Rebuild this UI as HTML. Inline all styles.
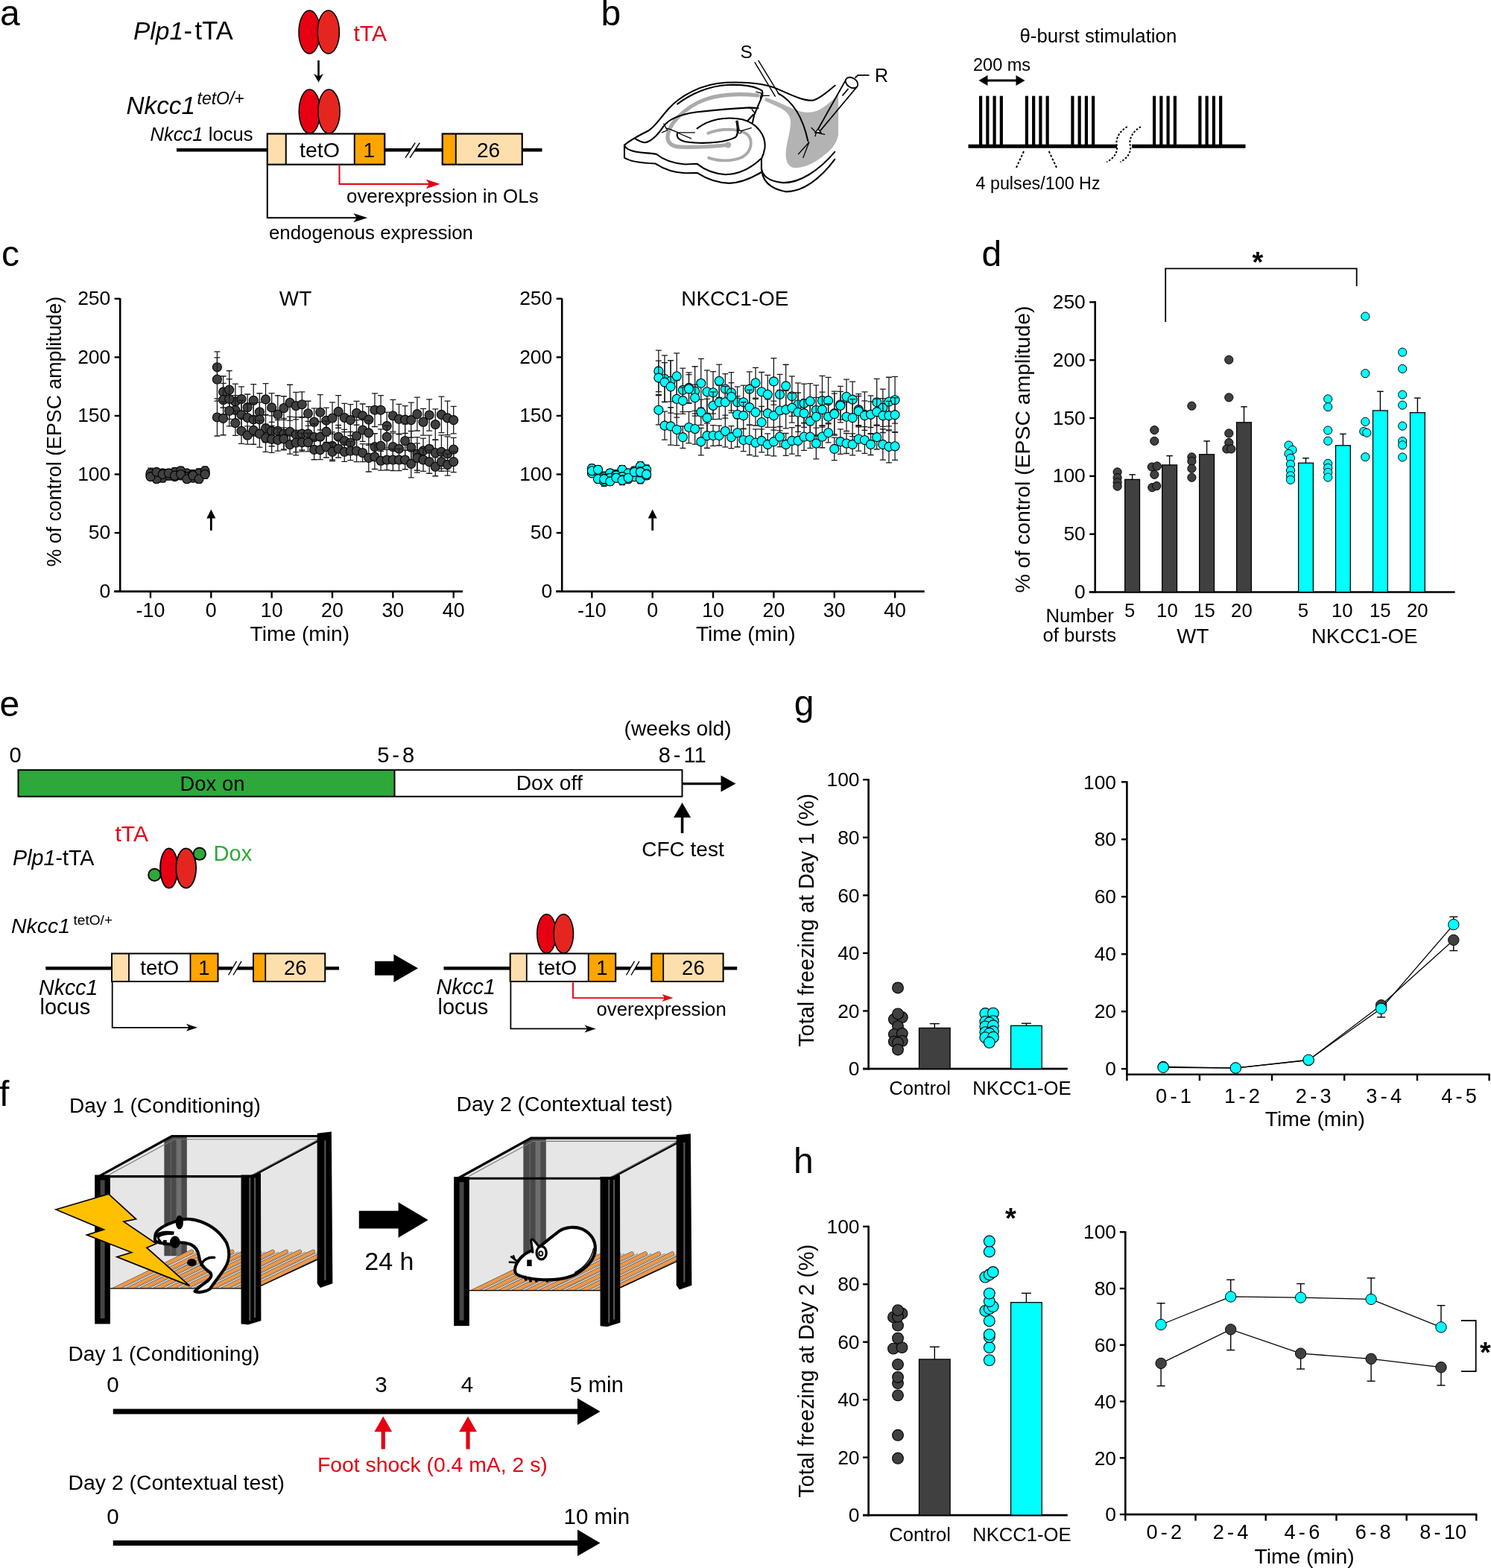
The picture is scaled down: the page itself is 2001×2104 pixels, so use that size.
<!DOCTYPE html>
<html><head><meta charset="utf-8"><title>Figure</title>
<style>
html,body{margin:0;padding:0;background:#fff;}
body{width:2001px;height:2104px;overflow:hidden;}
svg{display:block;}
text{font-family:"Liberation Sans",Arial,Helvetica,sans-serif;}
</style></head><body>
<svg width="2001" height="2104" viewBox="0 0 2001 2104">
<defs><clipPath id="floorclip"><polygon points="410,1025 1240,1025 1360,1012 1722,842 1722,775 890,775"/></clipPath></defs>
<rect width="2001" height="2104" fill="#fff"/>
<text x="0" y="34.2" font-size="48">a</text>
<text x="179" y="53.3" font-size="33.5"><tspan font-style="italic">Plp1</tspan><tspan dx="0.5" font-size="34.5">-</tspan><tspan dx="3.5" font-size="34.5">tTA</tspan></text>
<ellipse cx="415.25" cy="43" rx="14.2" ry="29" fill="#e60012" stroke="#000" stroke-width="1.6"/>
<ellipse cx="440.75" cy="43" rx="14.63" ry="29" fill="#e52620" stroke="#000" stroke-width="1.6"/>
<text x="474.5" y="55" font-size="30" fill="#e60012">tTA</text>
<line x1="427.5" y1="81" x2="427.5" y2="106" stroke="#000" stroke-width="2.6"/>
<polygon points="427.5,110.5 421,99 427.5,102.5 434,99" fill="#000" stroke="none" stroke-width="0"/>
<ellipse cx="415.5" cy="149.5" rx="14.2" ry="29.5" fill="#e60012" stroke="#000" stroke-width="1.6"/>
<ellipse cx="441.5" cy="149.5" rx="14.63" ry="29.5" fill="#e52620" stroke="#000" stroke-width="1.6"/>
<text x="169.5" y="152.5" font-size="33.3" font-style="italic">Nkcc1</text>
<text x="264.5" y="139.7" font-size="23" font-style="italic">tetO/+</text>
<text x="201.5" y="188.7" font-size="25.6"><tspan font-style="italic">Nkcc1</tspan> locus</text>
<line x1="237" y1="201.3" x2="727.5" y2="201.3" stroke="#000" stroke-width="4.6"/>
<rect x="358.75" y="179.5" width="25" height="41.25" fill="#fddfad" stroke="#000" stroke-width="0"/>
<rect x="383.75" y="179.5" width="92" height="41.25" fill="#fff" stroke="#000" stroke-width="0"/>
<rect x="475.75" y="179.5" width="40.5" height="41.25" fill="#ffa500" stroke="#000" stroke-width="0"/>
<rect x="358.75" y="179.5" width="157.5" height="41.25" fill="none" stroke="#000" stroke-width="2.2"/>
<line x1="383.75" y1="179.5" x2="383.75" y2="220.75" stroke="#000" stroke-width="2"/>
<line x1="475.75" y1="179.5" x2="475.75" y2="220.75" stroke="#000" stroke-width="2"/>
<text x="402" y="211" font-size="28.5">tetO</text>
<text x="487.5" y="211" font-size="28">1</text>
<polygon points="544.1,211.6 557.2,191.6 563.3,191.6 550.2,211.6" fill="#fff" stroke="none" stroke-width="0"/>
<line x1="544.1" y1="211.6" x2="557.2" y2="191.6" stroke="#000" stroke-width="1.5"/>
<line x1="550.2" y1="211.6" x2="563.3" y2="191.6" stroke="#000" stroke-width="1.5"/>
<rect x="593.75" y="179.5" width="18" height="41.25" fill="#ffa500" stroke="#000" stroke-width="0"/>
<rect x="611.75" y="179.5" width="89" height="41.25" fill="#fddfad" stroke="#000" stroke-width="0"/>
<rect x="593.75" y="179.5" width="107" height="41.25" fill="none" stroke="#000" stroke-width="2.2"/>
<line x1="611.75" y1="179.5" x2="611.75" y2="220.75" stroke="#000" stroke-width="2"/>
<text x="640" y="211" font-size="28">26</text>
<path d="M455.5 220.75 V247 H584" fill="none" stroke="#e60012" stroke-width="2"/>
<polygon points="590.7,247 571.9,253.2 575.9,247 571.9,240.8" fill="#e60012" stroke="none" stroke-width="0"/>
<text x="465" y="271.5" font-size="25.9">overexpression in OLs</text>
<path d="M358.75 220.75 V292.2 H486" fill="none" stroke="#000" stroke-width="2"/>
<polygon points="493.2,292.2 474.4,298.2 478.8,292.2 474.4,286.2" fill="#000" stroke="none" stroke-width="0"/>
<text x="361" y="320.5" font-size="25.8">endogenous expression</text>
<text x="806.6" y="34.2" font-size="48">b</text>
<g transform="translate(830,50) scale(0.15992)" fill="none" stroke="#000" stroke-width="13" stroke-linecap="round" stroke-linejoin="round">
<path d="M1235,505 C1320,530 1420,585 1520,620 C1590,640 1650,630 1700,600 C1760,560 1810,520 1845,480 L1845,820 C1830,900 1780,950 1700,1010 C1620,1070 1540,1100 1470,1095 C1420,1085 1400,1030 1405,960 C1412,880 1440,800 1445,720 C1448,650 1400,610 1330,580 C1290,562 1250,545 1225,530 Z" fill="#b3b3b3" stroke="none"/>
<path d="M1170,488 C1000,470 850,480 731,521 C640,552 560,610 500,670 C440,730 408,800 413,850 C423,905 470,918 520,920 C640,925 800,915 900,905" stroke="#aaaaaa" stroke-width="32"/>
<circle cx="920" cy="903" r="26" fill="#aaaaaa" stroke="none"/>
<path d="M752,805 C850,765 1000,760 1075,810 C1135,860 1120,960 1040,1005 C950,1045 840,1040 758,1012" stroke="#aaaaaa" stroke-width="24"/>
<path d="M50,905 C90,870 180,820 250,785 C310,750 340,690 420,600 C520,490 700,390 900,380 C1100,372 1260,395 1360,445 C1460,490 1560,535 1630,530 C1690,520 1760,450 1818,405"/>
<path d="M50,905 L50,1010"/>
<path d="M50,905 C60,945 120,962 220,970 C280,975 310,978 320,982 C380,1030 470,1060 560,1066 L660,1062 C720,1110 800,1145 900,1152 C1000,1150 1100,1110 1195,1020"/>
<path d="M50,1010 C90,1040 180,1055 310,1060 C380,1105 470,1135 560,1140 L660,1138 C740,1190 830,1222 930,1225 C1030,1222 1120,1180 1195,1135"/>
<path d="M1200,1020 L1200,1100 C1205,1160 1260,1210 1380,1220 C1520,1225 1680,1120 1815,962"/>
<path d="M1200,1100 C1205,1200 1270,1270 1400,1295 C1550,1300 1700,1180 1815,1025"/>
<path d="M660,765 C760,690 900,660 1040,690 C1170,725 1240,830 1228,930 C1220,980 1210,1000 1200,1020"/>
<path d="M495,560 C600,480 760,405 920,400 C1060,396 1150,410 1205,448 C1215,470 1205,500 1195,520"/>
<path d="M135,848 C170,870 200,885 225,883 C280,872 330,820 380,745 C420,690 500,650 650,628 C800,612 950,598 1100,590 L1170,595"/>
<path d="M495,800 C480,850 520,880 640,885 C760,892 900,880 980,840 C1005,820 1005,780 990,705"/>
<path d="M1195,520 L1140,650 L1125,715 M1130,650 L1085,700"/>
<path d="M1340,470 C1450,530 1545,660 1590,870"/>
<path d="M380,725 L410,780 L365,800 M395,760 L440,775 L500,800 L640,800 M505,805 L610,850" stroke-width="8"/>
<path d="M1000,700 L1015,790 L1115,760" stroke-width="8"/>
<circle cx="1018" cy="795" r="12" fill="#fff" stroke-width="7"/>
<path d="M1155,458 L1200,470 L1190,510 L1215,490 L1265,490" stroke-width="8"/>
<path d="M1095,595 L1175,595 M1120,605 L1140,630" stroke-width="9"/>
<path d="M1620,760 L1660,800 L1730,815 M1660,800 L1650,830" stroke-width="8"/>
<path d="M1510,980 L1600,880 L1550,1010" stroke-width="8"/>
<path d="M1145,212 L1315,495 M1175,196 L1350,482" stroke-width="9"/>
</g>
<path d="M1095.8,177 L1135.5,106.5 M1099.5,177 L1150.5,116" fill="none" stroke="#000" stroke-width="1.8"/>
<ellipse cx="1143" cy="111" rx="9" ry="6.3" transform="rotate(34 1143 111)" fill="#fff" stroke="#000" stroke-width="1.8"/>
<path d="M1130.5,128.5 L1138.5,119" fill="none" stroke="#000" stroke-width="1.8"/>
<path d="M1147.5,104.5 L1151.5,100.8 H1166.5" fill="none" stroke="#000" stroke-width="1.8"/>
<path d="M1094,178 L1098,173 L1102,178 Z" fill="#fff" stroke="#000" stroke-width="1.3"/>
<text x="1174" y="110" font-size="25">R</text>
<text x="993.5" y="77.5" font-size="24.5">S</text>
<text x="1368.5" y="57" font-size="25.8">θ-burst stimulation</text>
<text x="1306" y="94.5" font-size="23.5">200 ms</text>
<line x1="1320" y1="108" x2="1369" y2="108" stroke="#000" stroke-width="3"/>
<polygon points="1313.5,108 1325.5,101 1325.5,115" fill="#000" stroke="none" stroke-width="0"/>
<polygon points="1375.5,108 1363.5,115 1363.5,101" fill="#000" stroke="none" stroke-width="0"/>
<line x1="1299.5" y1="196.3" x2="1499" y2="196.3" stroke="#000" stroke-width="5"/>
<line x1="1519" y1="196.3" x2="1671.5" y2="196.3" stroke="#000" stroke-width="5"/>
<line x1="1316.1" y1="128.7" x2="1316.1" y2="196" stroke="#000" stroke-width="4.2"/>
<line x1="1325.35" y1="128.7" x2="1325.35" y2="196" stroke="#000" stroke-width="4.2"/>
<line x1="1334.6" y1="128.7" x2="1334.6" y2="196" stroke="#000" stroke-width="4.2"/>
<line x1="1343.85" y1="128.7" x2="1343.85" y2="196" stroke="#000" stroke-width="4.2"/>
<line x1="1377.9" y1="128.7" x2="1377.9" y2="196" stroke="#000" stroke-width="4.2"/>
<line x1="1387.15" y1="128.7" x2="1387.15" y2="196" stroke="#000" stroke-width="4.2"/>
<line x1="1396.4" y1="128.7" x2="1396.4" y2="196" stroke="#000" stroke-width="4.2"/>
<line x1="1405.65" y1="128.7" x2="1405.65" y2="196" stroke="#000" stroke-width="4.2"/>
<line x1="1439.4" y1="128.7" x2="1439.4" y2="196" stroke="#000" stroke-width="4.2"/>
<line x1="1448.65" y1="128.7" x2="1448.65" y2="196" stroke="#000" stroke-width="4.2"/>
<line x1="1457.9" y1="128.7" x2="1457.9" y2="196" stroke="#000" stroke-width="4.2"/>
<line x1="1467.15" y1="128.7" x2="1467.15" y2="196" stroke="#000" stroke-width="4.2"/>
<line x1="1549.1" y1="128.7" x2="1549.1" y2="196" stroke="#000" stroke-width="4.2"/>
<line x1="1558.35" y1="128.7" x2="1558.35" y2="196" stroke="#000" stroke-width="4.2"/>
<line x1="1567.6" y1="128.7" x2="1567.6" y2="196" stroke="#000" stroke-width="4.2"/>
<line x1="1576.85" y1="128.7" x2="1576.85" y2="196" stroke="#000" stroke-width="4.2"/>
<line x1="1610.4" y1="128.7" x2="1610.4" y2="196" stroke="#000" stroke-width="4.2"/>
<line x1="1619.65" y1="128.7" x2="1619.65" y2="196" stroke="#000" stroke-width="4.2"/>
<line x1="1628.9" y1="128.7" x2="1628.9" y2="196" stroke="#000" stroke-width="4.2"/>
<line x1="1638.15" y1="128.7" x2="1638.15" y2="196" stroke="#000" stroke-width="4.2"/>
<line x1="1374" y1="203" x2="1363.5" y2="226" stroke="#000" stroke-width="2" stroke-dasharray="3,2.3"/>
<line x1="1407.75" y1="203" x2="1418.5" y2="226" stroke="#000" stroke-width="2" stroke-dasharray="3,2.3"/>
<path d="M1512.8,170 C1500,178 1497,188 1499,196 C1500,205 1495,212 1485.3,217.5" fill="none" stroke="#000" stroke-width="2" stroke-dasharray="2.6,2.2"/>
<path d="M1531,170 C1518,178 1515,188 1517,196 C1518,205 1513,212 1503.5,217.5" fill="none" stroke="#000" stroke-width="2" stroke-dasharray="2.6,2.2"/>
<text x="1309.5" y="253.8" font-size="23.3">4 pulses/100 Hz</text>
<text x="2" y="357" font-size="48">c</text>
<text transform="translate(82.4,579.1) rotate(-90)" font-size="26.75" text-anchor="middle">% of control (EPSC amplitude)</text>
<line x1="161.2" y1="400.2" x2="161.2" y2="795" stroke="#000" stroke-width="2.6"/>
<line x1="153.2" y1="793.6" x2="621" y2="793.6" stroke="#000" stroke-width="2.6"/>
<line x1="153.7" y1="793.6" x2="161.2" y2="793.6" stroke="#000" stroke-width="2.4"/>
<text x="148.35" y="801.9" font-size="26.5" text-anchor="end">0</text>
<line x1="153.7" y1="715.04" x2="161.2" y2="715.04" stroke="#000" stroke-width="2.4"/>
<text x="148.35" y="723.34" font-size="26.5" text-anchor="end">50</text>
<line x1="153.7" y1="636.48" x2="161.2" y2="636.48" stroke="#000" stroke-width="2.4"/>
<text x="148.35" y="644.78" font-size="26.5" text-anchor="end">100</text>
<line x1="153.7" y1="557.92" x2="161.2" y2="557.92" stroke="#000" stroke-width="2.4"/>
<text x="148.35" y="566.22" font-size="26.5" text-anchor="end">150</text>
<line x1="153.7" y1="479.36" x2="161.2" y2="479.36" stroke="#000" stroke-width="2.4"/>
<text x="148.35" y="487.66" font-size="26.5" text-anchor="end">200</text>
<line x1="153.7" y1="400.8" x2="161.2" y2="400.8" stroke="#000" stroke-width="2.4"/>
<text x="148.35" y="409.1" font-size="26.5" text-anchor="end">250</text>
<line x1="201.95" y1="793.6" x2="201.95" y2="802.5" stroke="#000" stroke-width="2.4"/>
<text x="201.95" y="827.5" font-size="26.8" text-anchor="middle">-10</text>
<line x1="283.3" y1="793.6" x2="283.3" y2="802.5" stroke="#000" stroke-width="2.4"/>
<text x="283.3" y="827.5" font-size="26.8" text-anchor="middle">0</text>
<line x1="364.65" y1="793.6" x2="364.65" y2="802.5" stroke="#000" stroke-width="2.4"/>
<text x="364.65" y="827.5" font-size="26.8" text-anchor="middle">10</text>
<line x1="446" y1="793.6" x2="446" y2="802.5" stroke="#000" stroke-width="2.4"/>
<text x="446" y="827.5" font-size="26.8" text-anchor="middle">20</text>
<line x1="527.35" y1="793.6" x2="527.35" y2="802.5" stroke="#000" stroke-width="2.4"/>
<text x="527.35" y="827.5" font-size="26.8" text-anchor="middle">30</text>
<line x1="608.7" y1="793.6" x2="608.7" y2="802.5" stroke="#000" stroke-width="2.4"/>
<text x="608.7" y="827.5" font-size="26.8" text-anchor="middle">40</text>
<text x="402.33" y="860" font-size="28.2" text-anchor="middle">Time (min)</text>
<text x="396.5" y="410.3" font-size="27.9" text-anchor="middle">WT</text>
<line x1="283.3" y1="690" x2="283.3" y2="711.8" stroke="#000" stroke-width="2.8"/>
<polygon points="283.3,683.5 289.3,695.5 277.3,695.5" fill="#000" stroke="none" stroke-width="0"/>
<path d="M201.95 633.21V642.9M197.95 633.21H205.95M197.95 642.9H205.95" stroke="#1a1a1a" stroke-width="1.3" fill="none"/>
<path d="M210.09 630.55V639.26M206.09 630.55H214.09M206.09 639.26H214.09" stroke="#1a1a1a" stroke-width="1.3" fill="none"/>
<path d="M218.22 635.42V646.96M214.22 635.42H222.22M214.22 646.96H222.22" stroke="#1a1a1a" stroke-width="1.3" fill="none"/>
<path d="M226.36 632.35V640.61M222.36 632.35H230.36M222.36 640.61H230.36" stroke="#1a1a1a" stroke-width="1.3" fill="none"/>
<path d="M234.49 627.89V638.78M230.49 627.89H238.49M230.49 638.78H238.49" stroke="#1a1a1a" stroke-width="1.3" fill="none"/>
<path d="M242.62 633.09V643.01M238.62 633.09H246.62M238.62 643.01H246.62" stroke="#1a1a1a" stroke-width="1.3" fill="none"/>
<path d="M250.76 630.82V639M246.76 630.82H254.76M246.76 639H254.76" stroke="#1a1a1a" stroke-width="1.3" fill="none"/>
<path d="M258.89 635.83V646.56M254.89 635.83H262.89M254.89 646.56H262.89" stroke="#1a1a1a" stroke-width="1.3" fill="none"/>
<path d="M267.03 635.59V643.66M263.03 635.59H271.03M263.03 643.66H271.03" stroke="#1a1a1a" stroke-width="1.3" fill="none"/>
<path d="M275.17 629.75V640.06M271.17 629.75H279.17M271.17 640.06H279.17" stroke="#1a1a1a" stroke-width="1.3" fill="none"/>
<path d="M291.44 471.87V513.56M287.44 471.87H295.44M287.44 513.56H295.44" stroke="#1a1a1a" stroke-width="1.3" fill="none"/>
<path d="M299.57 504.75V546.99M295.57 504.75H303.57M295.57 546.99H303.57" stroke="#1a1a1a" stroke-width="1.3" fill="none"/>
<path d="M307.71 497.49V548.59M303.71 497.49H311.71M303.71 548.59H311.71" stroke="#1a1a1a" stroke-width="1.3" fill="none"/>
<path d="M315.84 515.14V562.67M311.84 515.14H319.84M311.84 562.67H319.84" stroke="#1a1a1a" stroke-width="1.3" fill="none"/>
<path d="M323.98 518.87V552.04M319.98 518.87H327.98M319.98 552.04H327.98" stroke="#1a1a1a" stroke-width="1.3" fill="none"/>
<path d="M332.11 529.01V564.21M328.11 529.01H336.11M328.11 564.21H336.11" stroke="#1a1a1a" stroke-width="1.3" fill="none"/>
<path d="M340.25 515.61V559.06M336.25 515.61H344.25M336.25 559.06H344.25" stroke="#1a1a1a" stroke-width="1.3" fill="none"/>
<path d="M348.38 527.74V577.73M344.38 527.74H352.38M344.38 577.73H352.38" stroke="#1a1a1a" stroke-width="1.3" fill="none"/>
<path d="M356.51 514.71V557.14M352.51 514.71H360.51M352.51 557.14H360.51" stroke="#1a1a1a" stroke-width="1.3" fill="none"/>
<path d="M364.65 527.55V566.29M360.65 527.55H368.65M360.65 566.29H368.65" stroke="#1a1a1a" stroke-width="1.3" fill="none"/>
<path d="M372.79 530.75V581.32M368.79 530.75H376.79M368.79 581.32H376.79" stroke="#1a1a1a" stroke-width="1.3" fill="none"/>
<path d="M380.92 531.76V563.35M376.92 531.76H384.92M376.92 563.35H384.92" stroke="#1a1a1a" stroke-width="1.3" fill="none"/>
<path d="M389.06 516.24V564.41M385.06 516.24H393.06M385.06 564.41H393.06" stroke="#1a1a1a" stroke-width="1.3" fill="none"/>
<path d="M397.19 526.29V562.84M393.19 526.29H401.19M393.19 562.84H401.19" stroke="#1a1a1a" stroke-width="1.3" fill="none"/>
<path d="M405.32 525.89V559.47M401.32 525.89H409.32M401.32 559.47H409.32" stroke="#1a1a1a" stroke-width="1.3" fill="none"/>
<path d="M413.46 538.26V571.3M409.46 538.26H417.46M409.46 571.3H417.46" stroke="#1a1a1a" stroke-width="1.3" fill="none"/>
<path d="M421.6 547.78V584.72M417.6 547.78H425.6M417.6 584.72H425.6" stroke="#1a1a1a" stroke-width="1.3" fill="none"/>
<path d="M429.73 529.55V576.86M425.73 529.55H433.73M425.73 576.86H433.73" stroke="#1a1a1a" stroke-width="1.3" fill="none"/>
<path d="M437.87 547.04V581.37M433.87 547.04H441.87M433.87 581.37H441.87" stroke="#1a1a1a" stroke-width="1.3" fill="none"/>
<path d="M446 539.8V582.32M442 539.8H450M442 582.32H450" stroke="#1a1a1a" stroke-width="1.3" fill="none"/>
<path d="M454.13 530.58V574.27M450.13 530.58H458.13M450.13 574.27H458.13" stroke="#1a1a1a" stroke-width="1.3" fill="none"/>
<path d="M462.27 541.31V579.56M458.27 541.31H466.27M458.27 579.56H466.27" stroke="#1a1a1a" stroke-width="1.3" fill="none"/>
<path d="M470.4 542.66V584.49M466.4 542.66H474.4M466.4 584.49H474.4" stroke="#1a1a1a" stroke-width="1.3" fill="none"/>
<path d="M478.54 538.35V570.27M474.54 538.35H482.54M474.54 570.27H482.54" stroke="#1a1a1a" stroke-width="1.3" fill="none"/>
<path d="M486.68 541.99V573.85M482.68 541.99H490.68M482.68 573.85H490.68" stroke="#1a1a1a" stroke-width="1.3" fill="none"/>
<path d="M494.81 545.68V580.53M490.81 545.68H498.81M490.81 580.53H498.81" stroke="#1a1a1a" stroke-width="1.3" fill="none"/>
<path d="M502.94 527.95V572.49M498.94 527.95H506.94M498.94 572.49H506.94" stroke="#1a1a1a" stroke-width="1.3" fill="none"/>
<path d="M511.08 530.54V569.91M507.08 530.54H515.08M507.08 569.91H515.08" stroke="#1a1a1a" stroke-width="1.3" fill="none"/>
<path d="M519.22 553.06V590.12M515.22 553.06H523.22M515.22 590.12H523.22" stroke="#1a1a1a" stroke-width="1.3" fill="none"/>
<path d="M527.35 536.46V579.06M523.35 536.46H531.35M523.35 579.06H531.35" stroke="#1a1a1a" stroke-width="1.3" fill="none"/>
<path d="M535.49 542.37V582.27M531.49 542.37H539.49M531.49 582.27H539.49" stroke="#1a1a1a" stroke-width="1.3" fill="none"/>
<path d="M543.62 544.72V581.49M539.62 544.72H547.62M539.62 581.49H547.62" stroke="#1a1a1a" stroke-width="1.3" fill="none"/>
<path d="M551.75 540.14V587.01M547.75 540.14H555.75M547.75 587.01H555.75" stroke="#1a1a1a" stroke-width="1.3" fill="none"/>
<path d="M559.89 533.11V578.02M555.89 533.11H563.89M555.89 578.02H563.89" stroke="#1a1a1a" stroke-width="1.3" fill="none"/>
<path d="M568.02 548.44V584.06M564.02 548.44H572.02M564.02 584.06H572.02" stroke="#1a1a1a" stroke-width="1.3" fill="none"/>
<path d="M576.16 535.79V578.16M572.16 535.79H580.16M572.16 578.16H580.16" stroke="#1a1a1a" stroke-width="1.3" fill="none"/>
<path d="M584.3 548.86V590.23M580.3 548.86H588.3M580.3 590.23H588.3" stroke="#1a1a1a" stroke-width="1.3" fill="none"/>
<path d="M592.43 532.09V580.61M588.43 532.09H596.43M588.43 580.61H596.43" stroke="#1a1a1a" stroke-width="1.3" fill="none"/>
<path d="M600.57 538.14V583.67M596.57 538.14H604.57M596.57 583.67H604.57" stroke="#1a1a1a" stroke-width="1.3" fill="none"/>
<path d="M608.7 545.32V581.84M604.7 545.32H612.7M604.7 581.84H612.7" stroke="#1a1a1a" stroke-width="1.3" fill="none"/>
<circle cx="201.95" cy="638.05" r="6" fill="#404040" stroke="#000" stroke-width="1.1"/>
<circle cx="210.09" cy="634.91" r="6" fill="#404040" stroke="#000" stroke-width="1.1"/>
<circle cx="218.22" cy="641.19" r="6" fill="#404040" stroke="#000" stroke-width="1.1"/>
<circle cx="226.36" cy="636.48" r="6" fill="#404040" stroke="#000" stroke-width="1.1"/>
<circle cx="234.49" cy="633.34" r="6" fill="#404040" stroke="#000" stroke-width="1.1"/>
<circle cx="242.62" cy="638.05" r="6" fill="#404040" stroke="#000" stroke-width="1.1"/>
<circle cx="250.76" cy="634.91" r="6" fill="#404040" stroke="#000" stroke-width="1.1"/>
<circle cx="258.89" cy="641.19" r="6" fill="#404040" stroke="#000" stroke-width="1.1"/>
<circle cx="267.03" cy="639.62" r="6" fill="#404040" stroke="#000" stroke-width="1.1"/>
<circle cx="275.17" cy="634.91" r="6" fill="#404040" stroke="#000" stroke-width="1.1"/>
<circle cx="291.44" cy="492.72" r="6" fill="#404040" stroke="#000" stroke-width="1.1"/>
<circle cx="299.57" cy="525.87" r="6" fill="#404040" stroke="#000" stroke-width="1.1"/>
<circle cx="307.71" cy="523.04" r="6" fill="#404040" stroke="#000" stroke-width="1.1"/>
<circle cx="315.84" cy="538.91" r="6" fill="#404040" stroke="#000" stroke-width="1.1"/>
<circle cx="323.98" cy="535.45" r="6" fill="#404040" stroke="#000" stroke-width="1.1"/>
<circle cx="332.11" cy="546.61" r="6" fill="#404040" stroke="#000" stroke-width="1.1"/>
<circle cx="340.25" cy="537.34" r="6" fill="#404040" stroke="#000" stroke-width="1.1"/>
<circle cx="348.38" cy="552.74" r="6" fill="#404040" stroke="#000" stroke-width="1.1"/>
<circle cx="356.51" cy="535.92" r="6" fill="#404040" stroke="#000" stroke-width="1.1"/>
<circle cx="364.65" cy="546.92" r="6" fill="#404040" stroke="#000" stroke-width="1.1"/>
<circle cx="372.79" cy="556.03" r="6" fill="#404040" stroke="#000" stroke-width="1.1"/>
<circle cx="380.92" cy="547.55" r="6" fill="#404040" stroke="#000" stroke-width="1.1"/>
<circle cx="389.06" cy="540.32" r="6" fill="#404040" stroke="#000" stroke-width="1.1"/>
<circle cx="397.19" cy="544.56" r="6" fill="#404040" stroke="#000" stroke-width="1.1"/>
<circle cx="405.32" cy="542.68" r="6" fill="#404040" stroke="#000" stroke-width="1.1"/>
<circle cx="413.46" cy="554.78" r="6" fill="#404040" stroke="#000" stroke-width="1.1"/>
<circle cx="421.6" cy="566.25" r="6" fill="#404040" stroke="#000" stroke-width="1.1"/>
<circle cx="429.73" cy="553.21" r="6" fill="#404040" stroke="#000" stroke-width="1.1"/>
<circle cx="437.87" cy="564.2" r="6" fill="#404040" stroke="#000" stroke-width="1.1"/>
<circle cx="446" cy="561.06" r="6" fill="#404040" stroke="#000" stroke-width="1.1"/>
<circle cx="454.13" cy="552.42" r="6" fill="#404040" stroke="#000" stroke-width="1.1"/>
<circle cx="462.27" cy="560.43" r="6" fill="#404040" stroke="#000" stroke-width="1.1"/>
<circle cx="470.4" cy="563.58" r="6" fill="#404040" stroke="#000" stroke-width="1.1"/>
<circle cx="478.54" cy="554.31" r="6" fill="#404040" stroke="#000" stroke-width="1.1"/>
<circle cx="486.68" cy="557.92" r="6" fill="#404040" stroke="#000" stroke-width="1.1"/>
<circle cx="494.81" cy="563.1" r="6" fill="#404040" stroke="#000" stroke-width="1.1"/>
<circle cx="502.94" cy="550.22" r="6" fill="#404040" stroke="#000" stroke-width="1.1"/>
<circle cx="511.08" cy="550.22" r="6" fill="#404040" stroke="#000" stroke-width="1.1"/>
<circle cx="519.22" cy="571.59" r="6" fill="#404040" stroke="#000" stroke-width="1.1"/>
<circle cx="527.35" cy="557.76" r="6" fill="#404040" stroke="#000" stroke-width="1.1"/>
<circle cx="535.49" cy="562.32" r="6" fill="#404040" stroke="#000" stroke-width="1.1"/>
<circle cx="543.62" cy="563.1" r="6" fill="#404040" stroke="#000" stroke-width="1.1"/>
<circle cx="551.75" cy="563.58" r="6" fill="#404040" stroke="#000" stroke-width="1.1"/>
<circle cx="559.89" cy="555.56" r="6" fill="#404040" stroke="#000" stroke-width="1.1"/>
<circle cx="568.02" cy="566.25" r="6" fill="#404040" stroke="#000" stroke-width="1.1"/>
<circle cx="576.16" cy="556.98" r="6" fill="#404040" stroke="#000" stroke-width="1.1"/>
<circle cx="584.3" cy="569.55" r="6" fill="#404040" stroke="#000" stroke-width="1.1"/>
<circle cx="592.43" cy="556.35" r="6" fill="#404040" stroke="#000" stroke-width="1.1"/>
<circle cx="600.57" cy="560.91" r="6" fill="#404040" stroke="#000" stroke-width="1.1"/>
<circle cx="608.7" cy="563.58" r="6" fill="#404040" stroke="#000" stroke-width="1.1"/>
<path d="M201.95 628.21V641.61M197.95 628.21H205.95M197.95 641.61H205.95" stroke="#1a1a1a" stroke-width="1.3" fill="none"/>
<path d="M210.09 638.5V647.03M206.09 638.5H214.09M206.09 647.03H214.09" stroke="#1a1a1a" stroke-width="1.3" fill="none"/>
<path d="M218.22 629.8V640.02M214.22 629.8H222.22M214.22 640.02H222.22" stroke="#1a1a1a" stroke-width="1.3" fill="none"/>
<path d="M226.36 631.98V644.12M222.36 631.98H230.36M222.36 644.12H230.36" stroke="#1a1a1a" stroke-width="1.3" fill="none"/>
<path d="M234.49 635.26V643.98M230.49 635.26H238.49M230.49 643.98H238.49" stroke="#1a1a1a" stroke-width="1.3" fill="none"/>
<path d="M242.62 626.46V637.08M238.62 626.46H246.62M238.62 637.08H246.62" stroke="#1a1a1a" stroke-width="1.3" fill="none"/>
<path d="M250.76 635.58V643.66M246.76 635.58H254.76M246.76 643.66H254.76" stroke="#1a1a1a" stroke-width="1.3" fill="none"/>
<path d="M258.89 630.66V642.3M254.89 630.66H262.89M254.89 642.3H262.89" stroke="#1a1a1a" stroke-width="1.3" fill="none"/>
<path d="M267.03 628.82V641M263.03 628.82H271.03M263.03 641H271.03" stroke="#1a1a1a" stroke-width="1.3" fill="none"/>
<path d="M275.17 626.22V637.32M271.17 626.22H279.17M271.17 637.32H279.17" stroke="#1a1a1a" stroke-width="1.3" fill="none"/>
<path d="M291.44 479.94V538.17M287.44 479.94H295.44M287.44 538.17H295.44" stroke="#1a1a1a" stroke-width="1.3" fill="none"/>
<path d="M299.57 514.32V558.78M295.57 514.32H303.57M295.57 558.78H303.57" stroke="#1a1a1a" stroke-width="1.3" fill="none"/>
<path d="M307.71 508.55V562.36M303.71 508.55H311.71M303.71 562.36H311.71" stroke="#1a1a1a" stroke-width="1.3" fill="none"/>
<path d="M315.84 530.63V570.12M311.84 530.63H319.84M311.84 570.12H319.84" stroke="#1a1a1a" stroke-width="1.3" fill="none"/>
<path d="M323.98 537.06V576.27M319.98 537.06H327.98M319.98 576.27H327.98" stroke="#1a1a1a" stroke-width="1.3" fill="none"/>
<path d="M332.11 541.99V578.88M328.11 541.99H336.11M328.11 578.88H336.11" stroke="#1a1a1a" stroke-width="1.3" fill="none"/>
<path d="M340.25 540.89V585.01M336.25 540.89H344.25M336.25 585.01H344.25" stroke="#1a1a1a" stroke-width="1.3" fill="none"/>
<path d="M348.38 539.9V585.99M344.38 539.9H352.38M344.38 585.99H352.38" stroke="#1a1a1a" stroke-width="1.3" fill="none"/>
<path d="M356.51 556.28V593.5M352.51 556.28H360.51M352.51 593.5H360.51" stroke="#1a1a1a" stroke-width="1.3" fill="none"/>
<path d="M364.65 557.94V598.75M360.65 557.94H368.65M360.65 598.75H368.65" stroke="#1a1a1a" stroke-width="1.3" fill="none"/>
<path d="M372.79 563.48V592.9M368.79 563.48H376.79M368.79 592.9H376.79" stroke="#1a1a1a" stroke-width="1.3" fill="none"/>
<path d="M380.92 561.36V602.87M376.92 561.36H384.92M376.92 602.87H384.92" stroke="#1a1a1a" stroke-width="1.3" fill="none"/>
<path d="M389.06 559.05V599.53M385.06 559.05H393.06M385.06 599.53H393.06" stroke="#1a1a1a" stroke-width="1.3" fill="none"/>
<path d="M397.19 559.56V606.56M393.19 559.56H401.19M393.19 606.56H401.19" stroke="#1a1a1a" stroke-width="1.3" fill="none"/>
<path d="M405.32 560.23V604.01M401.32 560.23H409.32M401.32 604.01H409.32" stroke="#1a1a1a" stroke-width="1.3" fill="none"/>
<path d="M413.46 565.29V598.94M409.46 565.29H417.46M409.46 598.94H417.46" stroke="#1a1a1a" stroke-width="1.3" fill="none"/>
<path d="M421.6 568.74V604.29M417.6 568.74H425.6M417.6 604.29H425.6" stroke="#1a1a1a" stroke-width="1.3" fill="none"/>
<path d="M429.73 565.76V606.65M425.73 565.76H433.73M425.73 606.65H433.73" stroke="#1a1a1a" stroke-width="1.3" fill="none"/>
<path d="M437.87 564.78V593.48M433.87 564.78H441.87M433.87 593.48H441.87" stroke="#1a1a1a" stroke-width="1.3" fill="none"/>
<path d="M446 579.81V616.79M442 579.81H450M442 616.79H450" stroke="#1a1a1a" stroke-width="1.3" fill="none"/>
<path d="M454.13 570.48V601.93M450.13 570.48H458.13M450.13 601.93H458.13" stroke="#1a1a1a" stroke-width="1.3" fill="none"/>
<path d="M462.27 576.3V606.79M458.27 576.3H466.27M458.27 606.79H466.27" stroke="#1a1a1a" stroke-width="1.3" fill="none"/>
<path d="M470.4 579.52V608.91M466.4 579.52H474.4M466.4 608.91H474.4" stroke="#1a1a1a" stroke-width="1.3" fill="none"/>
<path d="M478.54 563.56V606.33M474.54 563.56H482.54M474.54 606.33H482.54" stroke="#1a1a1a" stroke-width="1.3" fill="none"/>
<path d="M486.68 561.57V592.29M482.68 561.57H490.68M482.68 592.29H490.68" stroke="#1a1a1a" stroke-width="1.3" fill="none"/>
<path d="M494.81 564.38V597.33M490.81 564.38H498.81M490.81 597.33H498.81" stroke="#1a1a1a" stroke-width="1.3" fill="none"/>
<path d="M502.94 581.73V617.38M498.94 581.73H506.94M498.94 617.38H506.94" stroke="#1a1a1a" stroke-width="1.3" fill="none"/>
<path d="M511.08 575.94V620.66M507.08 575.94H515.08M507.08 620.66H515.08" stroke="#1a1a1a" stroke-width="1.3" fill="none"/>
<path d="M519.22 571.3V601.1M515.22 571.3H523.22M515.22 601.1H523.22" stroke="#1a1a1a" stroke-width="1.3" fill="none"/>
<path d="M527.35 581.18V617.93M523.35 581.18H531.35M523.35 617.93H531.35" stroke="#1a1a1a" stroke-width="1.3" fill="none"/>
<path d="M535.49 582.91V621.55M531.49 582.91H539.49M531.49 621.55H539.49" stroke="#1a1a1a" stroke-width="1.3" fill="none"/>
<path d="M543.62 569.08V614.01M539.62 569.08H547.62M539.62 614.01H547.62" stroke="#1a1a1a" stroke-width="1.3" fill="none"/>
<path d="M551.75 578.48V622.21M547.75 578.48H555.75M547.75 622.21H555.75" stroke="#1a1a1a" stroke-width="1.3" fill="none"/>
<path d="M559.89 586.7V631.27M555.89 586.7H563.89M555.89 631.27H563.89" stroke="#1a1a1a" stroke-width="1.3" fill="none"/>
<path d="M568.02 588.13V621.66M564.02 588.13H572.02M564.02 621.66H572.02" stroke="#1a1a1a" stroke-width="1.3" fill="none"/>
<path d="M576.16 584.17V620.28M572.16 584.17H580.16M572.16 620.28H580.16" stroke="#1a1a1a" stroke-width="1.3" fill="none"/>
<path d="M584.3 590.05V625.09M580.3 590.05H588.3M580.3 625.09H588.3" stroke="#1a1a1a" stroke-width="1.3" fill="none"/>
<path d="M592.43 583.84V628.79M588.43 583.84H596.43M588.43 628.79H596.43" stroke="#1a1a1a" stroke-width="1.3" fill="none"/>
<path d="M600.57 585.81V632.15M596.57 585.81H604.57M596.57 632.15H604.57" stroke="#1a1a1a" stroke-width="1.3" fill="none"/>
<path d="M608.7 587.45V618.58M604.7 587.45H612.7M604.7 618.58H612.7" stroke="#1a1a1a" stroke-width="1.3" fill="none"/>
<circle cx="201.95" cy="634.91" r="6" fill="#404040" stroke="#000" stroke-width="1.1"/>
<circle cx="210.09" cy="642.76" r="6" fill="#404040" stroke="#000" stroke-width="1.1"/>
<circle cx="218.22" cy="634.91" r="6" fill="#404040" stroke="#000" stroke-width="1.1"/>
<circle cx="226.36" cy="638.05" r="6" fill="#404040" stroke="#000" stroke-width="1.1"/>
<circle cx="234.49" cy="639.62" r="6" fill="#404040" stroke="#000" stroke-width="1.1"/>
<circle cx="242.62" cy="631.77" r="6" fill="#404040" stroke="#000" stroke-width="1.1"/>
<circle cx="250.76" cy="639.62" r="6" fill="#404040" stroke="#000" stroke-width="1.1"/>
<circle cx="258.89" cy="636.48" r="6" fill="#404040" stroke="#000" stroke-width="1.1"/>
<circle cx="267.03" cy="634.91" r="6" fill="#404040" stroke="#000" stroke-width="1.1"/>
<circle cx="275.17" cy="631.77" r="6" fill="#404040" stroke="#000" stroke-width="1.1"/>
<circle cx="291.44" cy="509.06" r="6" fill="#404040" stroke="#000" stroke-width="1.1"/>
<circle cx="299.57" cy="536.55" r="6" fill="#404040" stroke="#000" stroke-width="1.1"/>
<circle cx="307.71" cy="535.45" r="6" fill="#404040" stroke="#000" stroke-width="1.1"/>
<circle cx="315.84" cy="550.38" r="6" fill="#404040" stroke="#000" stroke-width="1.1"/>
<circle cx="323.98" cy="556.66" r="6" fill="#404040" stroke="#000" stroke-width="1.1"/>
<circle cx="332.11" cy="560.43" r="6" fill="#404040" stroke="#000" stroke-width="1.1"/>
<circle cx="340.25" cy="562.95" r="6" fill="#404040" stroke="#000" stroke-width="1.1"/>
<circle cx="348.38" cy="562.95" r="6" fill="#404040" stroke="#000" stroke-width="1.1"/>
<circle cx="356.51" cy="574.89" r="6" fill="#404040" stroke="#000" stroke-width="1.1"/>
<circle cx="364.65" cy="578.35" r="6" fill="#404040" stroke="#000" stroke-width="1.1"/>
<circle cx="372.79" cy="578.19" r="6" fill="#404040" stroke="#000" stroke-width="1.1"/>
<circle cx="380.92" cy="582.12" r="6" fill="#404040" stroke="#000" stroke-width="1.1"/>
<circle cx="389.06" cy="579.29" r="6" fill="#404040" stroke="#000" stroke-width="1.1"/>
<circle cx="397.19" cy="583.06" r="6" fill="#404040" stroke="#000" stroke-width="1.1"/>
<circle cx="405.32" cy="582.12" r="6" fill="#404040" stroke="#000" stroke-width="1.1"/>
<circle cx="413.46" cy="582.12" r="6" fill="#404040" stroke="#000" stroke-width="1.1"/>
<circle cx="421.6" cy="586.52" r="6" fill="#404040" stroke="#000" stroke-width="1.1"/>
<circle cx="429.73" cy="586.2" r="6" fill="#404040" stroke="#000" stroke-width="1.1"/>
<circle cx="437.87" cy="579.13" r="6" fill="#404040" stroke="#000" stroke-width="1.1"/>
<circle cx="446" cy="598.3" r="6" fill="#404040" stroke="#000" stroke-width="1.1"/>
<circle cx="454.13" cy="586.2" r="6" fill="#404040" stroke="#000" stroke-width="1.1"/>
<circle cx="462.27" cy="591.54" r="6" fill="#404040" stroke="#000" stroke-width="1.1"/>
<circle cx="470.4" cy="594.21" r="6" fill="#404040" stroke="#000" stroke-width="1.1"/>
<circle cx="478.54" cy="584.94" r="6" fill="#404040" stroke="#000" stroke-width="1.1"/>
<circle cx="486.68" cy="576.93" r="6" fill="#404040" stroke="#000" stroke-width="1.1"/>
<circle cx="494.81" cy="580.86" r="6" fill="#404040" stroke="#000" stroke-width="1.1"/>
<circle cx="502.94" cy="599.56" r="6" fill="#404040" stroke="#000" stroke-width="1.1"/>
<circle cx="511.08" cy="598.3" r="6" fill="#404040" stroke="#000" stroke-width="1.1"/>
<circle cx="519.22" cy="586.2" r="6" fill="#404040" stroke="#000" stroke-width="1.1"/>
<circle cx="527.35" cy="599.56" r="6" fill="#404040" stroke="#000" stroke-width="1.1"/>
<circle cx="535.49" cy="602.23" r="6" fill="#404040" stroke="#000" stroke-width="1.1"/>
<circle cx="543.62" cy="591.54" r="6" fill="#404040" stroke="#000" stroke-width="1.1"/>
<circle cx="551.75" cy="600.34" r="6" fill="#404040" stroke="#000" stroke-width="1.1"/>
<circle cx="559.89" cy="608.98" r="6" fill="#404040" stroke="#000" stroke-width="1.1"/>
<circle cx="568.02" cy="604.9" r="6" fill="#404040" stroke="#000" stroke-width="1.1"/>
<circle cx="576.16" cy="602.23" r="6" fill="#404040" stroke="#000" stroke-width="1.1"/>
<circle cx="584.3" cy="607.57" r="6" fill="#404040" stroke="#000" stroke-width="1.1"/>
<circle cx="592.43" cy="606.31" r="6" fill="#404040" stroke="#000" stroke-width="1.1"/>
<circle cx="600.57" cy="608.98" r="6" fill="#404040" stroke="#000" stroke-width="1.1"/>
<circle cx="608.7" cy="603.01" r="6" fill="#404040" stroke="#000" stroke-width="1.1"/>
<path d="M201.95 635.2V644.05M197.95 635.2H205.95M197.95 644.05H205.95" stroke="#1a1a1a" stroke-width="1.3" fill="none"/>
<path d="M210.09 628.75V637.92M206.09 628.75H214.09M206.09 637.92H214.09" stroke="#1a1a1a" stroke-width="1.3" fill="none"/>
<path d="M218.22 631.89V641.07M214.22 631.89H222.22M214.22 641.07H222.22" stroke="#1a1a1a" stroke-width="1.3" fill="none"/>
<path d="M226.36 629.61V640.21M222.36 629.61H230.36M222.36 640.21H230.36" stroke="#1a1a1a" stroke-width="1.3" fill="none"/>
<path d="M234.49 632.46V643.65M230.49 632.46H238.49M230.49 643.65H238.49" stroke="#1a1a1a" stroke-width="1.3" fill="none"/>
<path d="M242.62 631.81V641.15M238.62 631.81H246.62M238.62 641.15H246.62" stroke="#1a1a1a" stroke-width="1.3" fill="none"/>
<path d="M250.76 638.83V646.7M246.76 638.83H254.76M246.76 646.7H254.76" stroke="#1a1a1a" stroke-width="1.3" fill="none"/>
<path d="M258.89 632.94V643.16M254.89 632.94H262.89M254.89 643.16H262.89" stroke="#1a1a1a" stroke-width="1.3" fill="none"/>
<path d="M267.03 637.79V647.74M263.03 637.79H271.03M263.03 647.74H271.03" stroke="#1a1a1a" stroke-width="1.3" fill="none"/>
<path d="M275.17 630.95V642.01M271.17 630.95H279.17M271.17 642.01H279.17" stroke="#1a1a1a" stroke-width="1.3" fill="none"/>
<path d="M291.44 534.91V585.02M287.44 534.91H295.44M287.44 585.02H295.44" stroke="#1a1a1a" stroke-width="1.3" fill="none"/>
<path d="M299.57 539.01V583.75M295.57 539.01H303.57M295.57 583.75H303.57" stroke="#1a1a1a" stroke-width="1.3" fill="none"/>
<path d="M307.71 530.74V571.9M303.71 530.74H311.71M303.71 571.9H311.71" stroke="#1a1a1a" stroke-width="1.3" fill="none"/>
<path d="M315.84 551.03V584.3M311.84 551.03H319.84M311.84 584.3H319.84" stroke="#1a1a1a" stroke-width="1.3" fill="none"/>
<path d="M323.98 561.09V595.28M319.98 561.09H327.98M319.98 595.28H327.98" stroke="#1a1a1a" stroke-width="1.3" fill="none"/>
<path d="M332.11 571.79V596.21M328.11 571.79H336.11M328.11 596.21H336.11" stroke="#1a1a1a" stroke-width="1.3" fill="none"/>
<path d="M340.25 558.55V596.25M336.25 558.55H344.25M336.25 596.25H344.25" stroke="#1a1a1a" stroke-width="1.3" fill="none"/>
<path d="M348.38 564.21V600.03M344.38 564.21H352.38M344.38 600.03H352.38" stroke="#1a1a1a" stroke-width="1.3" fill="none"/>
<path d="M356.51 569.12V606.43M352.51 569.12H360.51M352.51 606.43H360.51" stroke="#1a1a1a" stroke-width="1.3" fill="none"/>
<path d="M364.65 571.29V607.4M360.65 571.29H368.65M360.65 607.4H368.65" stroke="#1a1a1a" stroke-width="1.3" fill="none"/>
<path d="M372.79 575.42V605.15M368.79 575.42H376.79M368.79 605.15H376.79" stroke="#1a1a1a" stroke-width="1.3" fill="none"/>
<path d="M380.92 573.95V603.79M376.92 573.95H384.92M376.92 603.79H384.92" stroke="#1a1a1a" stroke-width="1.3" fill="none"/>
<path d="M389.06 583.97V609.17M385.06 583.97H393.06M385.06 609.17H393.06" stroke="#1a1a1a" stroke-width="1.3" fill="none"/>
<path d="M397.19 577.29V610.82M393.19 577.29H401.19M393.19 610.82H401.19" stroke="#1a1a1a" stroke-width="1.3" fill="none"/>
<path d="M405.32 581.31V605.86M401.32 581.31H409.32M401.32 605.86H409.32" stroke="#1a1a1a" stroke-width="1.3" fill="none"/>
<path d="M413.46 581.27V605.9M409.46 581.27H417.46M409.46 605.9H417.46" stroke="#1a1a1a" stroke-width="1.3" fill="none"/>
<path d="M421.6 589.9V616.75M417.6 589.9H425.6M417.6 616.75H425.6" stroke="#1a1a1a" stroke-width="1.3" fill="none"/>
<path d="M429.73 590.58V616.7M425.73 590.58H433.73M425.73 616.7H433.73" stroke="#1a1a1a" stroke-width="1.3" fill="none"/>
<path d="M437.87 585.1V614.01M433.87 585.1H441.87M433.87 614.01H441.87" stroke="#1a1a1a" stroke-width="1.3" fill="none"/>
<path d="M446 594.12V618.51M442 594.12H450M442 618.51H450" stroke="#1a1a1a" stroke-width="1.3" fill="none"/>
<path d="M454.13 590.44V614.01M450.13 590.44H458.13M450.13 614.01H458.13" stroke="#1a1a1a" stroke-width="1.3" fill="none"/>
<path d="M462.27 593.34V619.29M458.27 593.34H466.27M458.27 619.29H466.27" stroke="#1a1a1a" stroke-width="1.3" fill="none"/>
<path d="M470.4 592.47V617.64M466.4 592.47H474.4M466.4 617.64H474.4" stroke="#1a1a1a" stroke-width="1.3" fill="none"/>
<path d="M478.54 590.42V619.7M474.54 590.42H482.54M474.54 619.7H482.54" stroke="#1a1a1a" stroke-width="1.3" fill="none"/>
<path d="M486.68 595.59V619.55M482.68 595.59H490.68M482.68 619.55H490.68" stroke="#1a1a1a" stroke-width="1.3" fill="none"/>
<path d="M494.81 595.67V632.98M490.81 595.67H498.81M490.81 632.98H498.81" stroke="#1a1a1a" stroke-width="1.3" fill="none"/>
<path d="M502.94 596.3V629.52M498.94 596.3H506.94M498.94 629.52H506.94" stroke="#1a1a1a" stroke-width="1.3" fill="none"/>
<path d="M511.08 605.3V631.21M507.08 605.3H515.08M507.08 631.21H515.08" stroke="#1a1a1a" stroke-width="1.3" fill="none"/>
<path d="M519.22 603.23V630.76M515.22 603.23H523.22M515.22 630.76H523.22" stroke="#1a1a1a" stroke-width="1.3" fill="none"/>
<path d="M527.35 602.48V631.51M523.35 602.48H531.35M523.35 631.51H531.35" stroke="#1a1a1a" stroke-width="1.3" fill="none"/>
<path d="M535.49 602.35V631.64M531.49 602.35H539.49M531.49 631.64H539.49" stroke="#1a1a1a" stroke-width="1.3" fill="none"/>
<path d="M543.62 604.25V629.75M539.62 604.25H547.62M539.62 629.75H547.62" stroke="#1a1a1a" stroke-width="1.3" fill="none"/>
<path d="M551.75 603.89V640.79M547.75 603.89H555.75M547.75 640.79H555.75" stroke="#1a1a1a" stroke-width="1.3" fill="none"/>
<path d="M559.89 594.9V634.07M555.89 594.9H563.89M555.89 634.07H563.89" stroke="#1a1a1a" stroke-width="1.3" fill="none"/>
<path d="M568.02 601.55V632.44M564.02 601.55H572.02M564.02 632.44H572.02" stroke="#1a1a1a" stroke-width="1.3" fill="none"/>
<path d="M576.16 604.08V635.25M572.16 604.08H580.16M572.16 635.25H580.16" stroke="#1a1a1a" stroke-width="1.3" fill="none"/>
<path d="M584.3 613.81V638.73M580.3 613.81H588.3M580.3 638.73H588.3" stroke="#1a1a1a" stroke-width="1.3" fill="none"/>
<path d="M592.43 607.08V632.25M588.43 607.08H596.43M588.43 632.25H596.43" stroke="#1a1a1a" stroke-width="1.3" fill="none"/>
<path d="M600.57 609.12V638.07M596.57 609.12H604.57M596.57 638.07H604.57" stroke="#1a1a1a" stroke-width="1.3" fill="none"/>
<path d="M608.7 605.8V633.53M604.7 605.8H612.7M604.7 633.53H612.7" stroke="#1a1a1a" stroke-width="1.3" fill="none"/>
<circle cx="201.95" cy="639.62" r="6" fill="#404040" stroke="#000" stroke-width="1.1"/>
<circle cx="210.09" cy="633.34" r="6" fill="#404040" stroke="#000" stroke-width="1.1"/>
<circle cx="218.22" cy="636.48" r="6" fill="#404040" stroke="#000" stroke-width="1.1"/>
<circle cx="226.36" cy="634.91" r="6" fill="#404040" stroke="#000" stroke-width="1.1"/>
<circle cx="234.49" cy="638.05" r="6" fill="#404040" stroke="#000" stroke-width="1.1"/>
<circle cx="242.62" cy="636.48" r="6" fill="#404040" stroke="#000" stroke-width="1.1"/>
<circle cx="250.76" cy="642.76" r="6" fill="#404040" stroke="#000" stroke-width="1.1"/>
<circle cx="258.89" cy="638.05" r="6" fill="#404040" stroke="#000" stroke-width="1.1"/>
<circle cx="267.03" cy="642.76" r="6" fill="#404040" stroke="#000" stroke-width="1.1"/>
<circle cx="275.17" cy="636.48" r="6" fill="#404040" stroke="#000" stroke-width="1.1"/>
<circle cx="291.44" cy="559.96" r="6" fill="#404040" stroke="#000" stroke-width="1.1"/>
<circle cx="299.57" cy="561.38" r="6" fill="#404040" stroke="#000" stroke-width="1.1"/>
<circle cx="307.71" cy="551.32" r="6" fill="#404040" stroke="#000" stroke-width="1.1"/>
<circle cx="315.84" cy="567.66" r="6" fill="#404040" stroke="#000" stroke-width="1.1"/>
<circle cx="323.98" cy="578.19" r="6" fill="#404040" stroke="#000" stroke-width="1.1"/>
<circle cx="332.11" cy="584" r="6" fill="#404040" stroke="#000" stroke-width="1.1"/>
<circle cx="340.25" cy="577.4" r="6" fill="#404040" stroke="#000" stroke-width="1.1"/>
<circle cx="348.38" cy="582.12" r="6" fill="#404040" stroke="#000" stroke-width="1.1"/>
<circle cx="356.51" cy="587.77" r="6" fill="#404040" stroke="#000" stroke-width="1.1"/>
<circle cx="364.65" cy="589.34" r="6" fill="#404040" stroke="#000" stroke-width="1.1"/>
<circle cx="372.79" cy="590.29" r="6" fill="#404040" stroke="#000" stroke-width="1.1"/>
<circle cx="380.92" cy="588.87" r="6" fill="#404040" stroke="#000" stroke-width="1.1"/>
<circle cx="389.06" cy="596.57" r="6" fill="#404040" stroke="#000" stroke-width="1.1"/>
<circle cx="397.19" cy="594.06" r="6" fill="#404040" stroke="#000" stroke-width="1.1"/>
<circle cx="405.32" cy="593.59" r="6" fill="#404040" stroke="#000" stroke-width="1.1"/>
<circle cx="413.46" cy="593.59" r="6" fill="#404040" stroke="#000" stroke-width="1.1"/>
<circle cx="421.6" cy="603.33" r="6" fill="#404040" stroke="#000" stroke-width="1.1"/>
<circle cx="429.73" cy="603.64" r="6" fill="#404040" stroke="#000" stroke-width="1.1"/>
<circle cx="437.87" cy="599.56" r="6" fill="#404040" stroke="#000" stroke-width="1.1"/>
<circle cx="446" cy="606.31" r="6" fill="#404040" stroke="#000" stroke-width="1.1"/>
<circle cx="454.13" cy="602.23" r="6" fill="#404040" stroke="#000" stroke-width="1.1"/>
<circle cx="462.27" cy="606.31" r="6" fill="#404040" stroke="#000" stroke-width="1.1"/>
<circle cx="470.4" cy="605.06" r="6" fill="#404040" stroke="#000" stroke-width="1.1"/>
<circle cx="478.54" cy="605.06" r="6" fill="#404040" stroke="#000" stroke-width="1.1"/>
<circle cx="486.68" cy="607.57" r="6" fill="#404040" stroke="#000" stroke-width="1.1"/>
<circle cx="494.81" cy="614.33" r="6" fill="#404040" stroke="#000" stroke-width="1.1"/>
<circle cx="502.94" cy="612.91" r="6" fill="#404040" stroke="#000" stroke-width="1.1"/>
<circle cx="511.08" cy="618.25" r="6" fill="#404040" stroke="#000" stroke-width="1.1"/>
<circle cx="519.22" cy="617" r="6" fill="#404040" stroke="#000" stroke-width="1.1"/>
<circle cx="527.35" cy="617" r="6" fill="#404040" stroke="#000" stroke-width="1.1"/>
<circle cx="535.49" cy="617" r="6" fill="#404040" stroke="#000" stroke-width="1.1"/>
<circle cx="543.62" cy="617" r="6" fill="#404040" stroke="#000" stroke-width="1.1"/>
<circle cx="551.75" cy="622.34" r="6" fill="#404040" stroke="#000" stroke-width="1.1"/>
<circle cx="559.89" cy="614.48" r="6" fill="#404040" stroke="#000" stroke-width="1.1"/>
<circle cx="568.02" cy="617" r="6" fill="#404040" stroke="#000" stroke-width="1.1"/>
<circle cx="576.16" cy="619.67" r="6" fill="#404040" stroke="#000" stroke-width="1.1"/>
<circle cx="584.3" cy="626.27" r="6" fill="#404040" stroke="#000" stroke-width="1.1"/>
<circle cx="592.43" cy="619.67" r="6" fill="#404040" stroke="#000" stroke-width="1.1"/>
<circle cx="600.57" cy="623.6" r="6" fill="#404040" stroke="#000" stroke-width="1.1"/>
<circle cx="608.7" cy="619.67" r="6" fill="#404040" stroke="#000" stroke-width="1.1"/>
<line x1="754.2" y1="400.2" x2="754.2" y2="795" stroke="#000" stroke-width="2.6"/>
<line x1="746.2" y1="793.6" x2="1240.7" y2="793.6" stroke="#000" stroke-width="2.6"/>
<line x1="746.7" y1="793.6" x2="754.2" y2="793.6" stroke="#000" stroke-width="2.4"/>
<text x="741.35" y="801.9" font-size="26.5" text-anchor="end">0</text>
<line x1="746.7" y1="715.04" x2="754.2" y2="715.04" stroke="#000" stroke-width="2.4"/>
<text x="741.35" y="723.34" font-size="26.5" text-anchor="end">50</text>
<line x1="746.7" y1="636.48" x2="754.2" y2="636.48" stroke="#000" stroke-width="2.4"/>
<text x="741.35" y="644.78" font-size="26.5" text-anchor="end">100</text>
<line x1="746.7" y1="557.92" x2="754.2" y2="557.92" stroke="#000" stroke-width="2.4"/>
<text x="741.35" y="566.22" font-size="26.5" text-anchor="end">150</text>
<line x1="746.7" y1="479.36" x2="754.2" y2="479.36" stroke="#000" stroke-width="2.4"/>
<text x="741.35" y="487.66" font-size="26.5" text-anchor="end">200</text>
<line x1="746.7" y1="400.8" x2="754.2" y2="400.8" stroke="#000" stroke-width="2.4"/>
<text x="741.35" y="409.1" font-size="26.5" text-anchor="end">250</text>
<line x1="794.35" y1="793.6" x2="794.35" y2="802.5" stroke="#000" stroke-width="2.4"/>
<text x="794.35" y="827.5" font-size="26.8" text-anchor="middle">-10</text>
<line x1="875.7" y1="793.6" x2="875.7" y2="802.5" stroke="#000" stroke-width="2.4"/>
<text x="875.7" y="827.5" font-size="26.8" text-anchor="middle">0</text>
<line x1="957.05" y1="793.6" x2="957.05" y2="802.5" stroke="#000" stroke-width="2.4"/>
<text x="957.05" y="827.5" font-size="26.8" text-anchor="middle">10</text>
<line x1="1038.4" y1="793.6" x2="1038.4" y2="802.5" stroke="#000" stroke-width="2.4"/>
<text x="1038.4" y="827.5" font-size="26.8" text-anchor="middle">20</text>
<line x1="1119.75" y1="793.6" x2="1119.75" y2="802.5" stroke="#000" stroke-width="2.4"/>
<text x="1119.75" y="827.5" font-size="26.8" text-anchor="middle">30</text>
<line x1="1201.1" y1="793.6" x2="1201.1" y2="802.5" stroke="#000" stroke-width="2.4"/>
<text x="1201.1" y="827.5" font-size="26.8" text-anchor="middle">40</text>
<text x="1000.72" y="860" font-size="28.2" text-anchor="middle">Time (min)</text>
<text x="986.3" y="410.3" font-size="27.9" text-anchor="middle">NKCC1-OE</text>
<line x1="875.7" y1="690" x2="875.7" y2="711.8" stroke="#000" stroke-width="2.8"/>
<polygon points="875.7,683.5 881.7,695.5 869.7,695.5" fill="#000" stroke="none" stroke-width="0"/>
<path d="M794.35 623.42V633.83M790.35 623.42H798.35M790.35 633.83H798.35" stroke="#1a1a1a" stroke-width="1.3" fill="none"/>
<path d="M802.49 632.54V643.56M798.49 632.54H806.49M798.49 643.56H806.49" stroke="#1a1a1a" stroke-width="1.3" fill="none"/>
<path d="M810.62 633.08V646.16M806.62 633.08H814.62M806.62 646.16H814.62" stroke="#1a1a1a" stroke-width="1.3" fill="none"/>
<path d="M818.75 629.66V640.15M814.75 629.66H822.75M814.75 640.15H822.75" stroke="#1a1a1a" stroke-width="1.3" fill="none"/>
<path d="M826.89 631.12V641.84M822.89 631.12H830.89M822.89 641.84H830.89" stroke="#1a1a1a" stroke-width="1.3" fill="none"/>
<path d="M835.03 624.61V635.78M831.03 624.61H839.03M831.03 635.78H839.03" stroke="#1a1a1a" stroke-width="1.3" fill="none"/>
<path d="M843.16 630.46V639.36M839.16 630.46H847.16M839.16 639.36H847.16" stroke="#1a1a1a" stroke-width="1.3" fill="none"/>
<path d="M851.3 626.39V637.14M847.3 626.39H855.3M847.3 637.14H855.3" stroke="#1a1a1a" stroke-width="1.3" fill="none"/>
<path d="M859.43 619.77V631.19M855.43 619.77H863.43M855.43 631.19H863.43" stroke="#1a1a1a" stroke-width="1.3" fill="none"/>
<path d="M867.57 624.02V636.37M863.57 624.02H871.57M863.57 636.37H871.57" stroke="#1a1a1a" stroke-width="1.3" fill="none"/>
<path d="M883.84 470.22V525.58M879.84 470.22H887.84M879.84 525.58H887.84" stroke="#1a1a1a" stroke-width="1.3" fill="none"/>
<path d="M891.97 476.96V539.58M887.97 476.96H895.97M887.97 539.58H895.97" stroke="#1a1a1a" stroke-width="1.3" fill="none"/>
<path d="M900.11 483.64V538.87M896.11 483.64H904.11M896.11 538.87H904.11" stroke="#1a1a1a" stroke-width="1.3" fill="none"/>
<path d="M908.24 473.97V535.66M904.24 473.97H912.24M904.24 535.66H912.24" stroke="#1a1a1a" stroke-width="1.3" fill="none"/>
<path d="M916.38 494.06V552.65M912.38 494.06H920.38M912.38 552.65H920.38" stroke="#1a1a1a" stroke-width="1.3" fill="none"/>
<path d="M924.51 499.78V540.96M920.51 499.78H928.51M920.51 540.96H928.51" stroke="#1a1a1a" stroke-width="1.3" fill="none"/>
<path d="M932.65 491.77V558.07M928.65 491.77H936.65M928.65 558.07H936.65" stroke="#1a1a1a" stroke-width="1.3" fill="none"/>
<path d="M940.78 481.32V547.16M936.78 481.32H944.78M936.78 547.16H944.78" stroke="#1a1a1a" stroke-width="1.3" fill="none"/>
<path d="M948.92 496.94V554.48M944.92 496.94H952.92M944.92 554.48H952.92" stroke="#1a1a1a" stroke-width="1.3" fill="none"/>
<path d="M957.05 498.56V555.06M953.05 498.56H961.05M953.05 555.06H961.05" stroke="#1a1a1a" stroke-width="1.3" fill="none"/>
<path d="M965.19 489.12V533.39M961.19 489.12H969.19M961.19 533.39H969.19" stroke="#1a1a1a" stroke-width="1.3" fill="none"/>
<path d="M973.32 501.55V542.02M969.32 501.55H977.32M969.32 542.02H977.32" stroke="#1a1a1a" stroke-width="1.3" fill="none"/>
<path d="M981.46 499.72V553.9M977.46 499.72H985.46M977.46 553.9H985.46" stroke="#1a1a1a" stroke-width="1.3" fill="none"/>
<path d="M989.59 518.87V560.52M985.59 518.87H993.59M985.59 560.52H993.59" stroke="#1a1a1a" stroke-width="1.3" fill="none"/>
<path d="M997.73 517.12V562.27M993.73 517.12H1001.73M993.73 562.27H1001.73" stroke="#1a1a1a" stroke-width="1.3" fill="none"/>
<path d="M1005.86 498.83V545.36M1001.86 498.83H1009.86M1001.86 545.36H1009.86" stroke="#1a1a1a" stroke-width="1.3" fill="none"/>
<path d="M1014 493.33V534.2M1010 493.33H1018M1010 534.2H1018" stroke="#1a1a1a" stroke-width="1.3" fill="none"/>
<path d="M1022.13 499.48V551.94M1018.13 499.48H1026.13M1018.13 551.94H1026.13" stroke="#1a1a1a" stroke-width="1.3" fill="none"/>
<path d="M1030.27 503.41V555.24M1026.27 503.41H1034.27M1026.27 555.24H1034.27" stroke="#1a1a1a" stroke-width="1.3" fill="none"/>
<path d="M1038.4 480.6V543.17M1034.4 480.6H1042.4M1034.4 543.17H1042.4" stroke="#1a1a1a" stroke-width="1.3" fill="none"/>
<path d="M1046.54 502.36V556.29M1042.54 502.36H1050.54M1042.54 556.29H1050.54" stroke="#1a1a1a" stroke-width="1.3" fill="none"/>
<path d="M1054.67 489.27V546.44M1050.67 489.27H1058.67M1050.67 546.44H1058.67" stroke="#1a1a1a" stroke-width="1.3" fill="none"/>
<path d="M1062.81 504.97V558.39M1058.81 504.97H1066.81M1058.81 558.39H1066.81" stroke="#1a1a1a" stroke-width="1.3" fill="none"/>
<path d="M1070.94 513.8V571.56M1066.94 513.8H1074.94M1066.94 571.56H1074.94" stroke="#1a1a1a" stroke-width="1.3" fill="none"/>
<path d="M1079.08 515.12V567.41M1075.08 515.12H1083.08M1075.08 567.41H1083.08" stroke="#1a1a1a" stroke-width="1.3" fill="none"/>
<path d="M1087.21 514.53V562.03M1083.21 514.53H1091.21M1083.21 562.03H1091.21" stroke="#1a1a1a" stroke-width="1.3" fill="none"/>
<path d="M1095.35 516.86V583.58M1091.35 516.86H1099.35M1091.35 583.58H1099.35" stroke="#1a1a1a" stroke-width="1.3" fill="none"/>
<path d="M1103.48 504.32V570.98M1099.48 504.32H1107.48M1099.48 570.98H1107.48" stroke="#1a1a1a" stroke-width="1.3" fill="none"/>
<path d="M1111.62 506.4V568.91M1107.62 506.4H1115.62M1107.62 568.91H1115.62" stroke="#1a1a1a" stroke-width="1.3" fill="none"/>
<path d="M1119.75 525.13V584.11M1115.75 525.13H1123.75M1115.75 584.11H1123.75" stroke="#1a1a1a" stroke-width="1.3" fill="none"/>
<path d="M1127.88 518.44V566.92M1123.88 518.44H1131.88M1123.88 566.92H1131.88" stroke="#1a1a1a" stroke-width="1.3" fill="none"/>
<path d="M1136.02 509.21V555.41M1132.02 509.21H1140.02M1132.02 555.41H1140.02" stroke="#1a1a1a" stroke-width="1.3" fill="none"/>
<path d="M1144.15 512.19V559.97M1140.15 512.19H1148.15M1140.15 559.97H1148.15" stroke="#1a1a1a" stroke-width="1.3" fill="none"/>
<path d="M1152.29 528.62V570.56M1148.29 528.62H1156.29M1148.29 570.56H1156.29" stroke="#1a1a1a" stroke-width="1.3" fill="none"/>
<path d="M1160.42 525.92V586.46M1156.42 525.92H1164.42M1156.42 586.46H1164.42" stroke="#1a1a1a" stroke-width="1.3" fill="none"/>
<path d="M1168.56 530.81V581.57M1164.56 530.81H1172.56M1164.56 581.57H1172.56" stroke="#1a1a1a" stroke-width="1.3" fill="none"/>
<path d="M1176.7 508.35V571.03M1172.7 508.35H1180.7M1172.7 571.03H1180.7" stroke="#1a1a1a" stroke-width="1.3" fill="none"/>
<path d="M1184.83 522.04V572.43M1180.83 522.04H1188.83M1180.83 572.43H1188.83" stroke="#1a1a1a" stroke-width="1.3" fill="none"/>
<path d="M1192.97 506.24V571.89M1188.97 506.24H1196.97M1188.97 571.89H1196.97" stroke="#1a1a1a" stroke-width="1.3" fill="none"/>
<path d="M1201.1 505.36V568.06M1197.1 505.36H1205.1M1197.1 568.06H1205.1" stroke="#1a1a1a" stroke-width="1.3" fill="none"/>
<circle cx="794.35" cy="628.62" r="6" fill="#00ffff" stroke="#000" stroke-width="1.1"/>
<circle cx="802.49" cy="638.05" r="6" fill="#00ffff" stroke="#000" stroke-width="1.1"/>
<circle cx="810.62" cy="639.62" r="6" fill="#00ffff" stroke="#000" stroke-width="1.1"/>
<circle cx="818.75" cy="634.91" r="6" fill="#00ffff" stroke="#000" stroke-width="1.1"/>
<circle cx="826.89" cy="636.48" r="6" fill="#00ffff" stroke="#000" stroke-width="1.1"/>
<circle cx="835.03" cy="630.2" r="6" fill="#00ffff" stroke="#000" stroke-width="1.1"/>
<circle cx="843.16" cy="634.91" r="6" fill="#00ffff" stroke="#000" stroke-width="1.1"/>
<circle cx="851.3" cy="631.77" r="6" fill="#00ffff" stroke="#000" stroke-width="1.1"/>
<circle cx="859.43" cy="625.48" r="6" fill="#00ffff" stroke="#000" stroke-width="1.1"/>
<circle cx="867.57" cy="630.2" r="6" fill="#00ffff" stroke="#000" stroke-width="1.1"/>
<circle cx="883.84" cy="497.9" r="6" fill="#00ffff" stroke="#000" stroke-width="1.1"/>
<circle cx="891.97" cy="508.27" r="6" fill="#00ffff" stroke="#000" stroke-width="1.1"/>
<circle cx="900.11" cy="511.26" r="6" fill="#00ffff" stroke="#000" stroke-width="1.1"/>
<circle cx="908.24" cy="504.81" r="6" fill="#00ffff" stroke="#000" stroke-width="1.1"/>
<circle cx="916.38" cy="523.35" r="6" fill="#00ffff" stroke="#000" stroke-width="1.1"/>
<circle cx="924.51" cy="520.37" r="6" fill="#00ffff" stroke="#000" stroke-width="1.1"/>
<circle cx="932.65" cy="524.92" r="6" fill="#00ffff" stroke="#000" stroke-width="1.1"/>
<circle cx="940.78" cy="514.24" r="6" fill="#00ffff" stroke="#000" stroke-width="1.1"/>
<circle cx="948.92" cy="525.71" r="6" fill="#00ffff" stroke="#000" stroke-width="1.1"/>
<circle cx="957.05" cy="526.81" r="6" fill="#00ffff" stroke="#000" stroke-width="1.1"/>
<circle cx="965.19" cy="511.26" r="6" fill="#00ffff" stroke="#000" stroke-width="1.1"/>
<circle cx="973.32" cy="521.78" r="6" fill="#00ffff" stroke="#000" stroke-width="1.1"/>
<circle cx="981.46" cy="526.81" r="6" fill="#00ffff" stroke="#000" stroke-width="1.1"/>
<circle cx="989.59" cy="539.69" r="6" fill="#00ffff" stroke="#000" stroke-width="1.1"/>
<circle cx="997.73" cy="539.69" r="6" fill="#00ffff" stroke="#000" stroke-width="1.1"/>
<circle cx="1005.86" cy="522.1" r="6" fill="#00ffff" stroke="#000" stroke-width="1.1"/>
<circle cx="1014" cy="513.77" r="6" fill="#00ffff" stroke="#000" stroke-width="1.1"/>
<circle cx="1022.13" cy="525.71" r="6" fill="#00ffff" stroke="#000" stroke-width="1.1"/>
<circle cx="1030.27" cy="529.32" r="6" fill="#00ffff" stroke="#000" stroke-width="1.1"/>
<circle cx="1038.4" cy="511.88" r="6" fill="#00ffff" stroke="#000" stroke-width="1.1"/>
<circle cx="1046.54" cy="529.32" r="6" fill="#00ffff" stroke="#000" stroke-width="1.1"/>
<circle cx="1054.67" cy="517.85" r="6" fill="#00ffff" stroke="#000" stroke-width="1.1"/>
<circle cx="1062.81" cy="531.68" r="6" fill="#00ffff" stroke="#000" stroke-width="1.1"/>
<circle cx="1070.94" cy="542.68" r="6" fill="#00ffff" stroke="#000" stroke-width="1.1"/>
<circle cx="1079.08" cy="541.27" r="6" fill="#00ffff" stroke="#000" stroke-width="1.1"/>
<circle cx="1087.21" cy="538.28" r="6" fill="#00ffff" stroke="#000" stroke-width="1.1"/>
<circle cx="1095.35" cy="550.22" r="6" fill="#00ffff" stroke="#000" stroke-width="1.1"/>
<circle cx="1103.48" cy="537.65" r="6" fill="#00ffff" stroke="#000" stroke-width="1.1"/>
<circle cx="1111.62" cy="537.65" r="6" fill="#00ffff" stroke="#000" stroke-width="1.1"/>
<circle cx="1119.75" cy="554.62" r="6" fill="#00ffff" stroke="#000" stroke-width="1.1"/>
<circle cx="1127.88" cy="542.68" r="6" fill="#00ffff" stroke="#000" stroke-width="1.1"/>
<circle cx="1136.02" cy="532.31" r="6" fill="#00ffff" stroke="#000" stroke-width="1.1"/>
<circle cx="1144.15" cy="536.08" r="6" fill="#00ffff" stroke="#000" stroke-width="1.1"/>
<circle cx="1152.29" cy="549.59" r="6" fill="#00ffff" stroke="#000" stroke-width="1.1"/>
<circle cx="1160.42" cy="556.19" r="6" fill="#00ffff" stroke="#000" stroke-width="1.1"/>
<circle cx="1168.56" cy="556.19" r="6" fill="#00ffff" stroke="#000" stroke-width="1.1"/>
<circle cx="1176.7" cy="539.69" r="6" fill="#00ffff" stroke="#000" stroke-width="1.1"/>
<circle cx="1184.83" cy="547.24" r="6" fill="#00ffff" stroke="#000" stroke-width="1.1"/>
<circle cx="1192.97" cy="539.07" r="6" fill="#00ffff" stroke="#000" stroke-width="1.1"/>
<circle cx="1201.1" cy="536.71" r="6" fill="#00ffff" stroke="#000" stroke-width="1.1"/>
<path d="M794.35 630.98V638.84M790.35 630.98H798.35M790.35 638.84H798.35" stroke="#1a1a1a" stroke-width="1.3" fill="none"/>
<path d="M802.49 638.24V647.29M798.49 638.24H806.49M798.49 647.29H806.49" stroke="#1a1a1a" stroke-width="1.3" fill="none"/>
<path d="M810.62 639.4V652.41M806.62 639.4H814.62M806.62 652.41H814.62" stroke="#1a1a1a" stroke-width="1.3" fill="none"/>
<path d="M818.75 635.94V646.45M814.75 635.94H822.75M814.75 646.45H822.75" stroke="#1a1a1a" stroke-width="1.3" fill="none"/>
<path d="M826.89 631.35V644.75M822.89 631.35H830.89M822.89 644.75H830.89" stroke="#1a1a1a" stroke-width="1.3" fill="none"/>
<path d="M835.03 634.57V644.67M831.03 634.57H839.03M831.03 644.67H839.03" stroke="#1a1a1a" stroke-width="1.3" fill="none"/>
<path d="M843.16 638.63V646.9M839.16 638.63H847.16M839.16 646.9H847.16" stroke="#1a1a1a" stroke-width="1.3" fill="none"/>
<path d="M851.3 633.91V645.33M847.3 633.91H855.3M847.3 645.33H855.3" stroke="#1a1a1a" stroke-width="1.3" fill="none"/>
<path d="M859.43 636.64V648.89M855.43 636.64H863.43M855.43 648.89H863.43" stroke="#1a1a1a" stroke-width="1.3" fill="none"/>
<path d="M867.57 633.36V642.74M863.57 633.36H871.57M863.57 642.74H871.57" stroke="#1a1a1a" stroke-width="1.3" fill="none"/>
<path d="M883.84 484.16V529.55M879.84 484.16H887.84M879.84 529.55H887.84" stroke="#1a1a1a" stroke-width="1.3" fill="none"/>
<path d="M891.97 486.62V539.03M887.97 486.62H895.97M887.97 539.03H895.97" stroke="#1a1a1a" stroke-width="1.3" fill="none"/>
<path d="M900.11 483.57V554.03M896.11 483.57H904.11M896.11 554.03H904.11" stroke="#1a1a1a" stroke-width="1.3" fill="none"/>
<path d="M908.24 510.46V560.13M904.24 510.46H912.24M904.24 560.13H912.24" stroke="#1a1a1a" stroke-width="1.3" fill="none"/>
<path d="M916.38 519.86V555.45M912.38 519.86H920.38M912.38 555.45H920.38" stroke="#1a1a1a" stroke-width="1.3" fill="none"/>
<path d="M924.51 502.57V540.99M920.51 502.57H928.51M920.51 540.99H928.51" stroke="#1a1a1a" stroke-width="1.3" fill="none"/>
<path d="M932.65 516.11V551.33M928.65 516.11H936.65M928.65 551.33H936.65" stroke="#1a1a1a" stroke-width="1.3" fill="none"/>
<path d="M940.78 536.05V570.36M936.78 536.05H944.78M936.78 570.36H944.78" stroke="#1a1a1a" stroke-width="1.3" fill="none"/>
<path d="M948.92 535.33V585.85M944.92 535.33H952.92M944.92 585.85H952.92" stroke="#1a1a1a" stroke-width="1.3" fill="none"/>
<path d="M957.05 525.8V562.7M953.05 525.8H961.05M953.05 562.7H961.05" stroke="#1a1a1a" stroke-width="1.3" fill="none"/>
<path d="M965.19 517.05V562.34M961.19 517.05H969.19M961.19 562.34H969.19" stroke="#1a1a1a" stroke-width="1.3" fill="none"/>
<path d="M973.32 518.28V561.11M969.32 518.28H977.32M969.32 561.11H977.32" stroke="#1a1a1a" stroke-width="1.3" fill="none"/>
<path d="M981.46 513.71V550.9M977.46 513.71H985.46M977.46 550.9H985.46" stroke="#1a1a1a" stroke-width="1.3" fill="none"/>
<path d="M989.59 531.64V580.74M985.59 531.64H993.59M985.59 580.74H993.59" stroke="#1a1a1a" stroke-width="1.3" fill="none"/>
<path d="M997.73 539.67V575.54M993.73 539.67H1001.73M993.73 575.54H1001.73" stroke="#1a1a1a" stroke-width="1.3" fill="none"/>
<path d="M1005.86 523.03V570.18M1001.86 523.03H1009.86M1001.86 570.18H1009.86" stroke="#1a1a1a" stroke-width="1.3" fill="none"/>
<path d="M1014 535.43V570.99M1010 535.43H1018M1010 570.99H1018" stroke="#1a1a1a" stroke-width="1.3" fill="none"/>
<path d="M1022.13 545.44V587.69M1018.13 545.44H1026.13M1018.13 587.69H1026.13" stroke="#1a1a1a" stroke-width="1.3" fill="none"/>
<path d="M1030.27 535.78V573.46M1026.27 535.78H1034.27M1026.27 573.46H1034.27" stroke="#1a1a1a" stroke-width="1.3" fill="none"/>
<path d="M1038.4 538.14V577.07M1034.4 538.14H1042.4M1034.4 577.07H1042.4" stroke="#1a1a1a" stroke-width="1.3" fill="none"/>
<path d="M1046.54 523.52V577.87M1042.54 523.52H1050.54M1042.54 577.87H1050.54" stroke="#1a1a1a" stroke-width="1.3" fill="none"/>
<path d="M1054.67 524.26V574.93M1050.67 524.26H1058.67M1050.67 574.93H1058.67" stroke="#1a1a1a" stroke-width="1.3" fill="none"/>
<path d="M1062.81 527.39V567.08M1058.81 527.39H1066.81M1058.81 567.08H1066.81" stroke="#1a1a1a" stroke-width="1.3" fill="none"/>
<path d="M1070.94 526.98V579.44M1066.94 526.98H1074.94M1066.94 579.44H1074.94" stroke="#1a1a1a" stroke-width="1.3" fill="none"/>
<path d="M1079.08 535.81V573.44M1075.08 535.81H1083.08M1075.08 573.44H1083.08" stroke="#1a1a1a" stroke-width="1.3" fill="none"/>
<path d="M1087.21 544.31V585.98M1083.21 544.31H1091.21M1083.21 585.98H1091.21" stroke="#1a1a1a" stroke-width="1.3" fill="none"/>
<path d="M1095.35 533.28V585.07M1091.35 533.28H1099.35M1091.35 585.07H1099.35" stroke="#1a1a1a" stroke-width="1.3" fill="none"/>
<path d="M1103.48 526.04V573.15M1099.48 526.04H1107.48M1099.48 573.15H1107.48" stroke="#1a1a1a" stroke-width="1.3" fill="none"/>
<path d="M1111.62 541.58V576.78M1107.62 541.58H1115.62M1107.62 576.78H1115.62" stroke="#1a1a1a" stroke-width="1.3" fill="none"/>
<path d="M1119.75 528.18V582.94M1115.75 528.18H1123.75M1115.75 582.94H1123.75" stroke="#1a1a1a" stroke-width="1.3" fill="none"/>
<path d="M1127.88 525.41V563.09M1123.88 525.41H1131.88M1123.88 563.09H1131.88" stroke="#1a1a1a" stroke-width="1.3" fill="none"/>
<path d="M1136.02 539.84V578.52M1132.02 539.84H1140.02M1132.02 578.52H1140.02" stroke="#1a1a1a" stroke-width="1.3" fill="none"/>
<path d="M1144.15 535.6V585.59M1140.15 535.6H1148.15M1140.15 585.59H1148.15" stroke="#1a1a1a" stroke-width="1.3" fill="none"/>
<path d="M1152.29 531.52V571.75M1148.29 531.52H1156.29M1148.29 571.75H1156.29" stroke="#1a1a1a" stroke-width="1.3" fill="none"/>
<path d="M1160.42 537.85V577.36M1156.42 537.85H1164.42M1156.42 577.36H1164.42" stroke="#1a1a1a" stroke-width="1.3" fill="none"/>
<path d="M1168.56 538.89V573.5M1164.56 538.89H1172.56M1164.56 573.5H1172.56" stroke="#1a1a1a" stroke-width="1.3" fill="none"/>
<path d="M1176.7 535.09V570.07M1172.7 535.09H1180.7M1172.7 570.07H1180.7" stroke="#1a1a1a" stroke-width="1.3" fill="none"/>
<path d="M1184.83 534.7V580.51M1180.83 534.7H1188.83M1180.83 580.51H1188.83" stroke="#1a1a1a" stroke-width="1.3" fill="none"/>
<path d="M1192.97 538.44V576.78M1188.97 538.44H1196.97M1188.97 576.78H1196.97" stroke="#1a1a1a" stroke-width="1.3" fill="none"/>
<path d="M1201.1 533.55V579.77M1197.1 533.55H1205.1M1197.1 579.77H1205.1" stroke="#1a1a1a" stroke-width="1.3" fill="none"/>
<circle cx="794.35" cy="634.91" r="6" fill="#00ffff" stroke="#000" stroke-width="1.1"/>
<circle cx="802.49" cy="642.76" r="6" fill="#00ffff" stroke="#000" stroke-width="1.1"/>
<circle cx="810.62" cy="645.91" r="6" fill="#00ffff" stroke="#000" stroke-width="1.1"/>
<circle cx="818.75" cy="641.19" r="6" fill="#00ffff" stroke="#000" stroke-width="1.1"/>
<circle cx="826.89" cy="638.05" r="6" fill="#00ffff" stroke="#000" stroke-width="1.1"/>
<circle cx="835.03" cy="639.62" r="6" fill="#00ffff" stroke="#000" stroke-width="1.1"/>
<circle cx="843.16" cy="642.76" r="6" fill="#00ffff" stroke="#000" stroke-width="1.1"/>
<circle cx="851.3" cy="639.62" r="6" fill="#00ffff" stroke="#000" stroke-width="1.1"/>
<circle cx="859.43" cy="642.76" r="6" fill="#00ffff" stroke="#000" stroke-width="1.1"/>
<circle cx="867.57" cy="638.05" r="6" fill="#00ffff" stroke="#000" stroke-width="1.1"/>
<circle cx="883.84" cy="506.86" r="6" fill="#00ffff" stroke="#000" stroke-width="1.1"/>
<circle cx="891.97" cy="512.83" r="6" fill="#00ffff" stroke="#000" stroke-width="1.1"/>
<circle cx="900.11" cy="518.8" r="6" fill="#00ffff" stroke="#000" stroke-width="1.1"/>
<circle cx="908.24" cy="535.29" r="6" fill="#00ffff" stroke="#000" stroke-width="1.1"/>
<circle cx="916.38" cy="537.65" r="6" fill="#00ffff" stroke="#000" stroke-width="1.1"/>
<circle cx="924.51" cy="521.78" r="6" fill="#00ffff" stroke="#000" stroke-width="1.1"/>
<circle cx="932.65" cy="533.72" r="6" fill="#00ffff" stroke="#000" stroke-width="1.1"/>
<circle cx="940.78" cy="553.21" r="6" fill="#00ffff" stroke="#000" stroke-width="1.1"/>
<circle cx="948.92" cy="560.59" r="6" fill="#00ffff" stroke="#000" stroke-width="1.1"/>
<circle cx="957.05" cy="544.25" r="6" fill="#00ffff" stroke="#000" stroke-width="1.1"/>
<circle cx="965.19" cy="539.69" r="6" fill="#00ffff" stroke="#000" stroke-width="1.1"/>
<circle cx="973.32" cy="539.69" r="6" fill="#00ffff" stroke="#000" stroke-width="1.1"/>
<circle cx="981.46" cy="532.31" r="6" fill="#00ffff" stroke="#000" stroke-width="1.1"/>
<circle cx="989.59" cy="556.19" r="6" fill="#00ffff" stroke="#000" stroke-width="1.1"/>
<circle cx="997.73" cy="557.61" r="6" fill="#00ffff" stroke="#000" stroke-width="1.1"/>
<circle cx="1005.86" cy="546.61" r="6" fill="#00ffff" stroke="#000" stroke-width="1.1"/>
<circle cx="1014" cy="553.21" r="6" fill="#00ffff" stroke="#000" stroke-width="1.1"/>
<circle cx="1022.13" cy="566.56" r="6" fill="#00ffff" stroke="#000" stroke-width="1.1"/>
<circle cx="1030.27" cy="554.62" r="6" fill="#00ffff" stroke="#000" stroke-width="1.1"/>
<circle cx="1038.4" cy="557.61" r="6" fill="#00ffff" stroke="#000" stroke-width="1.1"/>
<circle cx="1046.54" cy="550.69" r="6" fill="#00ffff" stroke="#000" stroke-width="1.1"/>
<circle cx="1054.67" cy="549.59" r="6" fill="#00ffff" stroke="#000" stroke-width="1.1"/>
<circle cx="1062.81" cy="547.24" r="6" fill="#00ffff" stroke="#000" stroke-width="1.1"/>
<circle cx="1070.94" cy="553.21" r="6" fill="#00ffff" stroke="#000" stroke-width="1.1"/>
<circle cx="1079.08" cy="554.62" r="6" fill="#00ffff" stroke="#000" stroke-width="1.1"/>
<circle cx="1087.21" cy="565.15" r="6" fill="#00ffff" stroke="#000" stroke-width="1.1"/>
<circle cx="1095.35" cy="559.18" r="6" fill="#00ffff" stroke="#000" stroke-width="1.1"/>
<circle cx="1103.48" cy="549.59" r="6" fill="#00ffff" stroke="#000" stroke-width="1.1"/>
<circle cx="1111.62" cy="559.18" r="6" fill="#00ffff" stroke="#000" stroke-width="1.1"/>
<circle cx="1119.75" cy="555.56" r="6" fill="#00ffff" stroke="#000" stroke-width="1.1"/>
<circle cx="1127.88" cy="544.25" r="6" fill="#00ffff" stroke="#000" stroke-width="1.1"/>
<circle cx="1136.02" cy="559.18" r="6" fill="#00ffff" stroke="#000" stroke-width="1.1"/>
<circle cx="1144.15" cy="560.59" r="6" fill="#00ffff" stroke="#000" stroke-width="1.1"/>
<circle cx="1152.29" cy="551.64" r="6" fill="#00ffff" stroke="#000" stroke-width="1.1"/>
<circle cx="1160.42" cy="557.61" r="6" fill="#00ffff" stroke="#000" stroke-width="1.1"/>
<circle cx="1168.56" cy="556.19" r="6" fill="#00ffff" stroke="#000" stroke-width="1.1"/>
<circle cx="1176.7" cy="552.58" r="6" fill="#00ffff" stroke="#000" stroke-width="1.1"/>
<circle cx="1184.83" cy="557.61" r="6" fill="#00ffff" stroke="#000" stroke-width="1.1"/>
<circle cx="1192.97" cy="557.61" r="6" fill="#00ffff" stroke="#000" stroke-width="1.1"/>
<circle cx="1201.1" cy="556.66" r="6" fill="#00ffff" stroke="#000" stroke-width="1.1"/>
<path d="M794.35 626.79V636.75M790.35 626.79H798.35M790.35 636.75H798.35" stroke="#1a1a1a" stroke-width="1.3" fill="none"/>
<path d="M802.49 624.99V635.4M798.49 624.99H806.49M798.49 635.4H806.49" stroke="#1a1a1a" stroke-width="1.3" fill="none"/>
<path d="M810.62 636.12V649.41M806.62 636.12H814.62M806.62 649.41H814.62" stroke="#1a1a1a" stroke-width="1.3" fill="none"/>
<path d="M818.75 640.61V651.2M814.75 640.61H822.75M814.75 651.2H822.75" stroke="#1a1a1a" stroke-width="1.3" fill="none"/>
<path d="M826.89 635.64V646.75M822.89 635.64H830.89M822.89 646.75H830.89" stroke="#1a1a1a" stroke-width="1.3" fill="none"/>
<path d="M835.03 637.96V650.71M831.03 637.96H839.03M831.03 650.71H839.03" stroke="#1a1a1a" stroke-width="1.3" fill="none"/>
<path d="M843.16 636.75V645.64M839.16 636.75H847.16M839.16 645.64H847.16" stroke="#1a1a1a" stroke-width="1.3" fill="none"/>
<path d="M851.3 628.97V637.7M847.3 628.97H855.3M847.3 637.7H855.3" stroke="#1a1a1a" stroke-width="1.3" fill="none"/>
<path d="M859.43 626.84V639.83M855.43 626.84H863.43M855.43 639.83H863.43" stroke="#1a1a1a" stroke-width="1.3" fill="none"/>
<path d="M867.57 630.24V642.72M863.57 630.24H871.57M863.57 642.72H871.57" stroke="#1a1a1a" stroke-width="1.3" fill="none"/>
<path d="M883.84 530.57V569.88M879.84 530.57H887.84M879.84 569.88H887.84" stroke="#1a1a1a" stroke-width="1.3" fill="none"/>
<path d="M891.97 552.13V590.1M887.97 552.13H895.97M887.97 590.1H895.97" stroke="#1a1a1a" stroke-width="1.3" fill="none"/>
<path d="M900.11 546.75V597.06M896.11 546.75H904.11M896.11 597.06H904.11" stroke="#1a1a1a" stroke-width="1.3" fill="none"/>
<path d="M908.24 555.37V597.55M904.24 555.37H912.24M904.24 597.55H912.24" stroke="#1a1a1a" stroke-width="1.3" fill="none"/>
<path d="M916.38 572.01V601.33M912.38 572.01H920.38M912.38 601.33H920.38" stroke="#1a1a1a" stroke-width="1.3" fill="none"/>
<path d="M924.51 552.3V594.65M920.51 552.3H928.51M920.51 594.65H928.51" stroke="#1a1a1a" stroke-width="1.3" fill="none"/>
<path d="M932.65 554.93V596.1M928.65 554.93H936.65M928.65 596.1H936.65" stroke="#1a1a1a" stroke-width="1.3" fill="none"/>
<path d="M940.78 574.47V610.82M936.78 574.47H944.78M936.78 610.82H944.78" stroke="#1a1a1a" stroke-width="1.3" fill="none"/>
<path d="M948.92 568.03V601.23M944.92 568.03H952.92M944.92 601.23H952.92" stroke="#1a1a1a" stroke-width="1.3" fill="none"/>
<path d="M957.05 570.61V598.33M953.05 570.61H961.05M953.05 598.33H961.05" stroke="#1a1a1a" stroke-width="1.3" fill="none"/>
<path d="M965.19 571.18V597.77M961.19 571.18H969.19M961.19 597.77H969.19" stroke="#1a1a1a" stroke-width="1.3" fill="none"/>
<path d="M973.32 557.22V599.78M969.32 557.22H977.32M969.32 599.78H977.32" stroke="#1a1a1a" stroke-width="1.3" fill="none"/>
<path d="M981.46 571.65V601.7M977.46 571.65H985.46M977.46 601.7H985.46" stroke="#1a1a1a" stroke-width="1.3" fill="none"/>
<path d="M989.59 561.65V599.75M985.59 561.65H993.59M985.59 599.75H993.59" stroke="#1a1a1a" stroke-width="1.3" fill="none"/>
<path d="M997.73 575.26V605.63M993.73 575.26H1001.73M993.73 605.63H1001.73" stroke="#1a1a1a" stroke-width="1.3" fill="none"/>
<path d="M1005.86 570.36V610.52M1001.86 570.36H1009.86M1001.86 610.52H1009.86" stroke="#1a1a1a" stroke-width="1.3" fill="none"/>
<path d="M1014 575.94V612.17M1010 575.94H1018M1010 612.17H1018" stroke="#1a1a1a" stroke-width="1.3" fill="none"/>
<path d="M1022.13 575.89V606.88M1018.13 575.89H1026.13M1018.13 606.88H1026.13" stroke="#1a1a1a" stroke-width="1.3" fill="none"/>
<path d="M1030.27 581.94V610.89M1026.27 581.94H1034.27M1026.27 610.89H1034.27" stroke="#1a1a1a" stroke-width="1.3" fill="none"/>
<path d="M1038.4 573.46V611.83M1034.4 573.46H1042.4M1034.4 611.83H1042.4" stroke="#1a1a1a" stroke-width="1.3" fill="none"/>
<path d="M1046.54 572.49V599.6M1042.54 572.49H1050.54M1042.54 599.6H1050.54" stroke="#1a1a1a" stroke-width="1.3" fill="none"/>
<path d="M1054.67 581.48V611.35M1050.67 581.48H1058.67M1050.67 611.35H1058.67" stroke="#1a1a1a" stroke-width="1.3" fill="none"/>
<path d="M1062.81 573.59V609.18M1058.81 573.59H1066.81M1058.81 609.18H1066.81" stroke="#1a1a1a" stroke-width="1.3" fill="none"/>
<path d="M1070.94 571.06V611.72M1066.94 571.06H1074.94M1066.94 611.72H1074.94" stroke="#1a1a1a" stroke-width="1.3" fill="none"/>
<path d="M1079.08 567.77V604.32M1075.08 567.77H1083.08M1075.08 604.32H1083.08" stroke="#1a1a1a" stroke-width="1.3" fill="none"/>
<path d="M1087.21 570.66V601.43M1083.21 570.66H1091.21M1083.21 601.43H1091.21" stroke="#1a1a1a" stroke-width="1.3" fill="none"/>
<path d="M1095.35 574.11V615.89M1091.35 574.11H1099.35M1091.35 615.89H1099.35" stroke="#1a1a1a" stroke-width="1.3" fill="none"/>
<path d="M1103.48 571.32V600.77M1099.48 571.32H1107.48M1099.48 600.77H1107.48" stroke="#1a1a1a" stroke-width="1.3" fill="none"/>
<path d="M1111.62 567.6V593.81M1107.62 567.6H1115.62M1107.62 593.81H1115.62" stroke="#1a1a1a" stroke-width="1.3" fill="none"/>
<path d="M1119.75 587.1V617.67M1115.75 587.1H1123.75M1115.75 617.67H1123.75" stroke="#1a1a1a" stroke-width="1.3" fill="none"/>
<path d="M1127.88 575.83V609.46M1123.88 575.83H1131.88M1123.88 609.46H1131.88" stroke="#1a1a1a" stroke-width="1.3" fill="none"/>
<path d="M1136.02 581.52V608.49M1132.02 581.52H1140.02M1132.02 608.49H1140.02" stroke="#1a1a1a" stroke-width="1.3" fill="none"/>
<path d="M1144.15 581.93V610.9M1140.15 581.93H1148.15M1140.15 610.9H1148.15" stroke="#1a1a1a" stroke-width="1.3" fill="none"/>
<path d="M1152.29 572.88V605.18M1148.29 572.88H1156.29M1148.29 605.18H1156.29" stroke="#1a1a1a" stroke-width="1.3" fill="none"/>
<path d="M1160.42 572.54V608.35M1156.42 572.54H1164.42M1156.42 608.35H1164.42" stroke="#1a1a1a" stroke-width="1.3" fill="none"/>
<path d="M1168.56 582.31V610.51M1164.56 582.31H1172.56M1164.56 610.51H1172.56" stroke="#1a1a1a" stroke-width="1.3" fill="none"/>
<path d="M1176.7 570.58V602.76M1172.7 570.58H1180.7M1172.7 602.76H1180.7" stroke="#1a1a1a" stroke-width="1.3" fill="none"/>
<path d="M1184.83 575.75V617.08M1180.83 575.75H1188.83M1180.83 617.08H1188.83" stroke="#1a1a1a" stroke-width="1.3" fill="none"/>
<path d="M1192.97 577.96V620.84M1188.97 577.96H1196.97M1188.97 620.84H1196.97" stroke="#1a1a1a" stroke-width="1.3" fill="none"/>
<path d="M1201.1 580.13V617.41M1197.1 580.13H1205.1M1197.1 617.41H1205.1" stroke="#1a1a1a" stroke-width="1.3" fill="none"/>
<circle cx="794.35" cy="631.77" r="6" fill="#00ffff" stroke="#000" stroke-width="1.1"/>
<circle cx="802.49" cy="630.2" r="6" fill="#00ffff" stroke="#000" stroke-width="1.1"/>
<circle cx="810.62" cy="642.76" r="6" fill="#00ffff" stroke="#000" stroke-width="1.1"/>
<circle cx="818.75" cy="645.91" r="6" fill="#00ffff" stroke="#000" stroke-width="1.1"/>
<circle cx="826.89" cy="641.19" r="6" fill="#00ffff" stroke="#000" stroke-width="1.1"/>
<circle cx="835.03" cy="644.34" r="6" fill="#00ffff" stroke="#000" stroke-width="1.1"/>
<circle cx="843.16" cy="641.19" r="6" fill="#00ffff" stroke="#000" stroke-width="1.1"/>
<circle cx="851.3" cy="633.34" r="6" fill="#00ffff" stroke="#000" stroke-width="1.1"/>
<circle cx="859.43" cy="633.34" r="6" fill="#00ffff" stroke="#000" stroke-width="1.1"/>
<circle cx="867.57" cy="636.48" r="6" fill="#00ffff" stroke="#000" stroke-width="1.1"/>
<circle cx="883.84" cy="550.22" r="6" fill="#00ffff" stroke="#000" stroke-width="1.1"/>
<circle cx="891.97" cy="571.12" r="6" fill="#00ffff" stroke="#000" stroke-width="1.1"/>
<circle cx="900.11" cy="571.9" r="6" fill="#00ffff" stroke="#000" stroke-width="1.1"/>
<circle cx="908.24" cy="576.46" r="6" fill="#00ffff" stroke="#000" stroke-width="1.1"/>
<circle cx="916.38" cy="586.67" r="6" fill="#00ffff" stroke="#000" stroke-width="1.1"/>
<circle cx="924.51" cy="573.47" r="6" fill="#00ffff" stroke="#000" stroke-width="1.1"/>
<circle cx="932.65" cy="575.52" r="6" fill="#00ffff" stroke="#000" stroke-width="1.1"/>
<circle cx="940.78" cy="592.64" r="6" fill="#00ffff" stroke="#000" stroke-width="1.1"/>
<circle cx="948.92" cy="584.63" r="6" fill="#00ffff" stroke="#000" stroke-width="1.1"/>
<circle cx="957.05" cy="584.47" r="6" fill="#00ffff" stroke="#000" stroke-width="1.1"/>
<circle cx="965.19" cy="584.47" r="6" fill="#00ffff" stroke="#000" stroke-width="1.1"/>
<circle cx="973.32" cy="578.5" r="6" fill="#00ffff" stroke="#000" stroke-width="1.1"/>
<circle cx="981.46" cy="586.67" r="6" fill="#00ffff" stroke="#000" stroke-width="1.1"/>
<circle cx="989.59" cy="580.7" r="6" fill="#00ffff" stroke="#000" stroke-width="1.1"/>
<circle cx="997.73" cy="590.44" r="6" fill="#00ffff" stroke="#000" stroke-width="1.1"/>
<circle cx="1005.86" cy="590.44" r="6" fill="#00ffff" stroke="#000" stroke-width="1.1"/>
<circle cx="1014" cy="594.06" r="6" fill="#00ffff" stroke="#000" stroke-width="1.1"/>
<circle cx="1022.13" cy="591.39" r="6" fill="#00ffff" stroke="#000" stroke-width="1.1"/>
<circle cx="1030.27" cy="596.41" r="6" fill="#00ffff" stroke="#000" stroke-width="1.1"/>
<circle cx="1038.4" cy="592.64" r="6" fill="#00ffff" stroke="#000" stroke-width="1.1"/>
<circle cx="1046.54" cy="586.04" r="6" fill="#00ffff" stroke="#000" stroke-width="1.1"/>
<circle cx="1054.67" cy="596.41" r="6" fill="#00ffff" stroke="#000" stroke-width="1.1"/>
<circle cx="1062.81" cy="591.39" r="6" fill="#00ffff" stroke="#000" stroke-width="1.1"/>
<circle cx="1070.94" cy="591.39" r="6" fill="#00ffff" stroke="#000" stroke-width="1.1"/>
<circle cx="1079.08" cy="586.04" r="6" fill="#00ffff" stroke="#000" stroke-width="1.1"/>
<circle cx="1087.21" cy="586.04" r="6" fill="#00ffff" stroke="#000" stroke-width="1.1"/>
<circle cx="1095.35" cy="595" r="6" fill="#00ffff" stroke="#000" stroke-width="1.1"/>
<circle cx="1103.48" cy="586.04" r="6" fill="#00ffff" stroke="#000" stroke-width="1.1"/>
<circle cx="1111.62" cy="580.7" r="6" fill="#00ffff" stroke="#000" stroke-width="1.1"/>
<circle cx="1119.75" cy="602.38" r="6" fill="#00ffff" stroke="#000" stroke-width="1.1"/>
<circle cx="1127.88" cy="592.64" r="6" fill="#00ffff" stroke="#000" stroke-width="1.1"/>
<circle cx="1136.02" cy="595" r="6" fill="#00ffff" stroke="#000" stroke-width="1.1"/>
<circle cx="1144.15" cy="596.41" r="6" fill="#00ffff" stroke="#000" stroke-width="1.1"/>
<circle cx="1152.29" cy="589.03" r="6" fill="#00ffff" stroke="#000" stroke-width="1.1"/>
<circle cx="1160.42" cy="590.44" r="6" fill="#00ffff" stroke="#000" stroke-width="1.1"/>
<circle cx="1168.56" cy="596.41" r="6" fill="#00ffff" stroke="#000" stroke-width="1.1"/>
<circle cx="1176.7" cy="586.67" r="6" fill="#00ffff" stroke="#000" stroke-width="1.1"/>
<circle cx="1184.83" cy="596.41" r="6" fill="#00ffff" stroke="#000" stroke-width="1.1"/>
<circle cx="1192.97" cy="599.4" r="6" fill="#00ffff" stroke="#000" stroke-width="1.1"/>
<circle cx="1201.1" cy="598.77" r="6" fill="#00ffff" stroke="#000" stroke-width="1.1"/>
<text x="1317.4" y="357" font-size="48">d</text>
<text transform="translate(1382,603.1) rotate(-90)" font-size="28.4" text-anchor="middle">% of control (EPSC amplitude)</text>
<line x1="1469.7" y1="404.2" x2="1469.7" y2="795.8" stroke="#000" stroke-width="2.6"/>
<line x1="1461.7" y1="794.5" x2="1952.6" y2="794.5" stroke="#000" stroke-width="2.6"/>
<line x1="1462.2" y1="794.5" x2="1469.7" y2="794.5" stroke="#000" stroke-width="2.4"/>
<text x="1456.8" y="803.1" font-size="26.4" text-anchor="end">0</text>
<line x1="1462.2" y1="716.68" x2="1469.7" y2="716.68" stroke="#000" stroke-width="2.4"/>
<text x="1456.8" y="725.28" font-size="26.4" text-anchor="end">50</text>
<line x1="1462.2" y1="638.86" x2="1469.7" y2="638.86" stroke="#000" stroke-width="2.4"/>
<text x="1456.8" y="647.46" font-size="26.4" text-anchor="end">100</text>
<line x1="1462.2" y1="561.04" x2="1469.7" y2="561.04" stroke="#000" stroke-width="2.4"/>
<text x="1456.8" y="569.64" font-size="26.4" text-anchor="end">150</text>
<line x1="1462.2" y1="483.22" x2="1469.7" y2="483.22" stroke="#000" stroke-width="2.4"/>
<text x="1456.8" y="491.82" font-size="26.4" text-anchor="end">200</text>
<line x1="1462.2" y1="405.4" x2="1469.7" y2="405.4" stroke="#000" stroke-width="2.4"/>
<text x="1456.8" y="414" font-size="26.4" text-anchor="end">250</text>
<rect x="1509.7" y="643.37" width="19.8" height="151.13" fill="#404040" stroke="#000" stroke-width="1.3"/>
<line x1="1519.6" y1="643.37" x2="1519.6" y2="636.84" stroke="#000" stroke-width="1.4"/>
<line x1="1515.3" y1="636.84" x2="1523.9" y2="636.84" stroke="#000" stroke-width="1.4"/>
<rect x="1559.7" y="623.92" width="19.8" height="170.58" fill="#404040" stroke="#000" stroke-width="1.3"/>
<line x1="1569.6" y1="623.92" x2="1569.6" y2="611.62" stroke="#000" stroke-width="1.4"/>
<line x1="1565.3" y1="611.62" x2="1573.9" y2="611.62" stroke="#000" stroke-width="1.4"/>
<rect x="1609.7" y="609.76" width="19.8" height="184.74" fill="#404040" stroke="#000" stroke-width="1.3"/>
<line x1="1619.6" y1="609.76" x2="1619.6" y2="591.86" stroke="#000" stroke-width="1.4"/>
<line x1="1615.3" y1="591.86" x2="1623.9" y2="591.86" stroke="#000" stroke-width="1.4"/>
<rect x="1659.6" y="566.8" width="19.8" height="227.7" fill="#404040" stroke="#000" stroke-width="1.3"/>
<line x1="1669.5" y1="566.8" x2="1669.5" y2="545.79" stroke="#000" stroke-width="1.4"/>
<line x1="1665.2" y1="545.79" x2="1673.8" y2="545.79" stroke="#000" stroke-width="1.4"/>
<rect x="1742.6" y="621.27" width="19.8" height="173.23" fill="#00ffff" stroke="#000" stroke-width="1.3"/>
<line x1="1752.5" y1="621.27" x2="1752.5" y2="614.74" stroke="#000" stroke-width="1.4"/>
<line x1="1748.2" y1="614.74" x2="1756.8" y2="614.74" stroke="#000" stroke-width="1.4"/>
<rect x="1792.5" y="597.77" width="19.8" height="196.73" fill="#00ffff" stroke="#000" stroke-width="1.3"/>
<line x1="1802.4" y1="597.77" x2="1802.4" y2="582.36" stroke="#000" stroke-width="1.4"/>
<line x1="1798.1" y1="582.36" x2="1806.7" y2="582.36" stroke="#000" stroke-width="1.4"/>
<rect x="1842.5" y="550.92" width="19.8" height="243.58" fill="#00ffff" stroke="#000" stroke-width="1.3"/>
<line x1="1852.4" y1="550.92" x2="1852.4" y2="525.24" stroke="#000" stroke-width="1.4"/>
<line x1="1848.1" y1="525.24" x2="1856.7" y2="525.24" stroke="#000" stroke-width="1.4"/>
<rect x="1892.5" y="553.72" width="19.8" height="240.78" fill="#00ffff" stroke="#000" stroke-width="1.3"/>
<line x1="1902.4" y1="553.72" x2="1902.4" y2="534.11" stroke="#000" stroke-width="1.4"/>
<line x1="1898.1" y1="534.11" x2="1906.7" y2="534.11" stroke="#000" stroke-width="1.4"/>
<circle cx="1499.6" cy="633.41" r="5.6" fill="#404040" stroke="#000" stroke-width="1"/>
<circle cx="1499.6" cy="641.04" r="5.6" fill="#404040" stroke="#000" stroke-width="1"/>
<circle cx="1499.6" cy="647.42" r="5.6" fill="#404040" stroke="#000" stroke-width="1"/>
<circle cx="1499.6" cy="652.56" r="5.6" fill="#404040" stroke="#000" stroke-width="1"/>
<circle cx="1549.3" cy="577.07" r="5.6" fill="#404040" stroke="#000" stroke-width="1"/>
<circle cx="1549.3" cy="591.86" r="5.6" fill="#404040" stroke="#000" stroke-width="1"/>
<circle cx="1545.8" cy="626.56" r="5.6" fill="#404040" stroke="#000" stroke-width="1"/>
<circle cx="1552.8" cy="625.47" r="5.6" fill="#404040" stroke="#000" stroke-width="1"/>
<circle cx="1549.3" cy="636.84" r="5.6" fill="#404040" stroke="#000" stroke-width="1"/>
<circle cx="1546.3" cy="654.11" r="5.6" fill="#404040" stroke="#000" stroke-width="1"/>
<circle cx="1552.3" cy="652.09" r="5.6" fill="#404040" stroke="#000" stroke-width="1"/>
<circle cx="1599.4" cy="544.7" r="5.6" fill="#404040" stroke="#000" stroke-width="1"/>
<circle cx="1599.4" cy="613.34" r="5.6" fill="#404040" stroke="#000" stroke-width="1"/>
<circle cx="1599.4" cy="618.94" r="5.6" fill="#404040" stroke="#000" stroke-width="1"/>
<circle cx="1599.4" cy="628.74" r="5.6" fill="#404040" stroke="#000" stroke-width="1"/>
<circle cx="1599.4" cy="640.73" r="5.6" fill="#404040" stroke="#000" stroke-width="1"/>
<circle cx="1649.3" cy="482.75" r="5.6" fill="#404040" stroke="#000" stroke-width="1"/>
<circle cx="1649.3" cy="533.34" r="5.6" fill="#404040" stroke="#000" stroke-width="1"/>
<circle cx="1649.3" cy="581.43" r="5.6" fill="#404040" stroke="#000" stroke-width="1"/>
<circle cx="1649.3" cy="593.88" r="5.6" fill="#404040" stroke="#000" stroke-width="1"/>
<circle cx="1646.3" cy="602.44" r="5.6" fill="#404040" stroke="#000" stroke-width="1"/>
<circle cx="1652.3" cy="602.44" r="5.6" fill="#404040" stroke="#000" stroke-width="1"/>
<circle cx="1729.5" cy="597.46" r="5.6" fill="#00ffff" stroke="#000" stroke-width="1"/>
<circle cx="1734.5" cy="603.69" r="5.6" fill="#00ffff" stroke="#000" stroke-width="1"/>
<circle cx="1729.5" cy="608.82" r="5.6" fill="#00ffff" stroke="#000" stroke-width="1"/>
<circle cx="1732" cy="614.74" r="5.6" fill="#00ffff" stroke="#000" stroke-width="1"/>
<circle cx="1732" cy="622.98" r="5.6" fill="#00ffff" stroke="#000" stroke-width="1"/>
<circle cx="1732" cy="631.23" r="5.6" fill="#00ffff" stroke="#000" stroke-width="1"/>
<circle cx="1732" cy="638.24" r="5.6" fill="#00ffff" stroke="#000" stroke-width="1"/>
<circle cx="1732" cy="643.84" r="5.6" fill="#00ffff" stroke="#000" stroke-width="1"/>
<circle cx="1782.2" cy="535.36" r="5.6" fill="#00ffff" stroke="#000" stroke-width="1"/>
<circle cx="1782.2" cy="546.1" r="5.6" fill="#00ffff" stroke="#000" stroke-width="1"/>
<circle cx="1782.2" cy="577.54" r="5.6" fill="#00ffff" stroke="#000" stroke-width="1"/>
<circle cx="1782.2" cy="591.7" r="5.6" fill="#00ffff" stroke="#000" stroke-width="1"/>
<circle cx="1782.2" cy="621.9" r="5.6" fill="#00ffff" stroke="#000" stroke-width="1"/>
<circle cx="1782.2" cy="627.81" r="5.6" fill="#00ffff" stroke="#000" stroke-width="1"/>
<circle cx="1782.2" cy="633.88" r="5.6" fill="#00ffff" stroke="#000" stroke-width="1"/>
<circle cx="1782.2" cy="640.57" r="5.6" fill="#00ffff" stroke="#000" stroke-width="1"/>
<circle cx="1832.3" cy="424.54" r="5.6" fill="#00ffff" stroke="#000" stroke-width="1"/>
<circle cx="1832.3" cy="501.12" r="5.6" fill="#00ffff" stroke="#000" stroke-width="1"/>
<circle cx="1832.3" cy="565.86" r="5.6" fill="#00ffff" stroke="#000" stroke-width="1"/>
<circle cx="1830.3" cy="578.94" r="5.6" fill="#00ffff" stroke="#000" stroke-width="1"/>
<circle cx="1834.3" cy="580.65" r="5.6" fill="#00ffff" stroke="#000" stroke-width="1"/>
<circle cx="1832.3" cy="613.18" r="5.6" fill="#00ffff" stroke="#000" stroke-width="1"/>
<circle cx="1882.2" cy="472.64" r="5.6" fill="#00ffff" stroke="#000" stroke-width="1"/>
<circle cx="1882.2" cy="494.89" r="5.6" fill="#00ffff" stroke="#000" stroke-width="1"/>
<circle cx="1882.2" cy="529.6" r="5.6" fill="#00ffff" stroke="#000" stroke-width="1"/>
<circle cx="1882.2" cy="543.61" r="5.6" fill="#00ffff" stroke="#000" stroke-width="1"/>
<circle cx="1882.2" cy="571.62" r="5.6" fill="#00ffff" stroke="#000" stroke-width="1"/>
<circle cx="1882.2" cy="592.01" r="5.6" fill="#00ffff" stroke="#000" stroke-width="1"/>
<circle cx="1882.2" cy="597.3" r="5.6" fill="#00ffff" stroke="#000" stroke-width="1"/>
<circle cx="1882.2" cy="613.49" r="5.6" fill="#00ffff" stroke="#000" stroke-width="1"/>
<path d="M1564.2 432 V360.3 H1820.7 V384" fill="none" stroke="#000" stroke-width="1.8"/>
<text x="1687.8" y="364.7" font-size="38" text-anchor="middle" font-weight="bold">*</text>
<text x="1403.5" y="835.1" font-size="25.7">Number</text>
<text x="1399.5" y="860.5" font-size="25.7">of bursts</text>
<text x="1516.2" y="827.5" font-size="25.7" text-anchor="middle">5</text>
<text x="1566.4" y="827.5" font-size="25.7" text-anchor="middle">10</text>
<text x="1616.4" y="827.5" font-size="25.7" text-anchor="middle">15</text>
<text x="1666.4" y="827.5" font-size="25.7" text-anchor="middle">20</text>
<text x="1748.8" y="827.5" font-size="25.7" text-anchor="middle">5</text>
<text x="1801.3" y="827.5" font-size="25.7" text-anchor="middle">10</text>
<text x="1852.3" y="827.5" font-size="25.7" text-anchor="middle">15</text>
<text x="1902.3" y="827.5" font-size="25.7" text-anchor="middle">20</text>
<text x="1600.8" y="862.5" font-size="27.6" text-anchor="middle">WT</text>
<text x="1831.2" y="862.5" font-size="27.6" text-anchor="middle">NKCC1-OE</text>
<text x="-0.5" y="960.8" font-size="48">e</text>
<text x="12.6" y="1023.3" font-size="29.1">0</text>
<text x="506.3" y="1023.3" font-size="29.1" word-spacing="-4.2">5 - 8</text>
<text x="883.8" y="1023.3" font-size="29.1" word-spacing="-4.2">8 - 11</text>
<text x="837.5" y="986.5" font-size="28.2">(weeks old)</text>
<rect x="24.5" y="1033.2" width="505" height="35.6" fill="#2ea83a" stroke="#000" stroke-width="0"/>
<rect x="529.5" y="1033.2" width="386" height="35.6" fill="#fff" stroke="#000" stroke-width="0"/>
<rect x="24.5" y="1033.2" width="891" height="35.6" fill="none" stroke="#000" stroke-width="2"/>
<line x1="529.5" y1="1033.2" x2="529.5" y2="1068.8" stroke="#000" stroke-width="2"/>
<text x="285" y="1060.8" font-size="27.4" text-anchor="middle">Dox on</text>
<text x="737.2" y="1060.1" font-size="28.3" text-anchor="middle">Dox off</text>
<line x1="916" y1="1051.6" x2="970" y2="1051.6" stroke="#000" stroke-width="3.4"/>
<polygon points="987.5,1051.6 967.5,1062.6 967.5,1040.6" fill="#000" stroke="none" stroke-width="0"/>
<line x1="915.6" y1="1095" x2="915.6" y2="1118" stroke="#000" stroke-width="3.6"/>
<polygon points="915.6,1077 927.1,1097 904.1,1097" fill="#000" stroke="none" stroke-width="0"/>
<text x="916.5" y="1148.7" font-size="28" text-anchor="middle">CFC test</text>
<text x="154.5" y="1129" font-size="30" fill="#e60012">tTA</text>
<text x="17" y="1161.3" font-size="28.7"><tspan font-style="italic">Plp1</tspan>-tTA</text>
<circle cx="207.4" cy="1173.9" r="8.2" fill="#2ea83a" stroke="#000" stroke-width="1.9"/>
<ellipse cx="226.8" cy="1165" rx="11.7" ry="26.6" fill="#e60012" stroke="#000" stroke-width="1.9"/>
<ellipse cx="249.7" cy="1165" rx="13.4" ry="26.6" fill="#e52620" stroke="#000" stroke-width="1.9"/>
<circle cx="267.8" cy="1145.7" r="8.2" fill="#2ea83a" stroke="#000" stroke-width="1.9"/>
<text x="286.6" y="1155" font-size="29" fill="#2eaa3a">Dox</text>
<text x="15" y="1252" font-size="28.5" font-style="italic">Nkcc1</text>
<text x="98.5" y="1241.3" font-size="19.1">tetO/+</text>
<line x1="61.25" y1="1299.2" x2="455" y2="1299.2" stroke="#000" stroke-width="4.6"/>
<rect x="150" y="1279.5" width="23" height="37.5" fill="#fddfad" stroke="#000" stroke-width="0"/>
<rect x="173" y="1279.5" width="82.5" height="37.5" fill="#fff" stroke="#000" stroke-width="0"/>
<rect x="255.5" y="1279.5" width="37" height="37.5" fill="#ffa500" stroke="#000" stroke-width="0"/>
<rect x="150" y="1279.5" width="142.5" height="37.5" fill="none" stroke="#000" stroke-width="2"/>
<line x1="173" y1="1279.5" x2="173" y2="1317" stroke="#000" stroke-width="1.8"/>
<line x1="255.5" y1="1279.5" x2="255.5" y2="1317" stroke="#000" stroke-width="1.8"/>
<rect x="340" y="1279.5" width="16.25" height="37.5" fill="#ffa500" stroke="#000" stroke-width="0"/>
<rect x="356.25" y="1279.5" width="80" height="37.5" fill="#fddfad" stroke="#000" stroke-width="0"/>
<rect x="340" y="1279.5" width="96.25" height="37.5" fill="none" stroke="#000" stroke-width="2"/>
<line x1="356.25" y1="1279.5" x2="356.25" y2="1317" stroke="#000" stroke-width="1.8"/>
<polygon points="306.5,1308.5 317.5,1289.9 324,1289.9 313,1308.5" fill="#fff" stroke="none" stroke-width="0"/>
<line x1="306.5" y1="1308.5" x2="317.5" y2="1289.9" stroke="#000" stroke-width="1.4"/>
<line x1="313" y1="1308.5" x2="324" y2="1289.9" stroke="#000" stroke-width="1.4"/>
<text x="214.25" y="1307.7" font-size="27.5" text-anchor="middle">tetO</text>
<text x="274" y="1307.7" font-size="27.5" text-anchor="middle">1</text>
<text x="396.25" y="1307.7" font-size="27.5" text-anchor="middle">26</text>
<path d="M150.7 1317 V1378.8 H255" fill="none" stroke="#000" stroke-width="1.8"/>
<polygon points="265,1378.8 250,1383.8 253.5,1378.8 250,1373.8" fill="#000" stroke="none" stroke-width="0"/>
<text x="52" y="1334.5" font-size="28.6" font-style="italic">Nkcc1</text>
<text x="53.5" y="1361.3" font-size="29">locus</text>
<polygon points="503,1289.8 528.4,1289.8 528.4,1280.5 561,1299.3 528.4,1318.1 528.4,1308.8 503,1308.8" fill="#000" stroke="none" stroke-width="0"/>
<line x1="595.5" y1="1299.2" x2="989.2" y2="1299.2" stroke="#000" stroke-width="4.6"/>
<rect x="684.7" y="1279.5" width="22.1" height="37.5" fill="#fddfad" stroke="#000" stroke-width="0"/>
<rect x="706.8" y="1279.5" width="82.9" height="37.5" fill="#fff" stroke="#000" stroke-width="0"/>
<rect x="789.7" y="1279.5" width="36.5" height="37.5" fill="#ffa500" stroke="#000" stroke-width="0"/>
<rect x="684.7" y="1279.5" width="141.5" height="37.5" fill="none" stroke="#000" stroke-width="2"/>
<line x1="706.8" y1="1279.5" x2="706.8" y2="1317" stroke="#000" stroke-width="1.8"/>
<line x1="789.7" y1="1279.5" x2="789.7" y2="1317" stroke="#000" stroke-width="1.8"/>
<rect x="874.3" y="1279.5" width="15.9" height="37.5" fill="#ffa500" stroke="#000" stroke-width="0"/>
<rect x="890.2" y="1279.5" width="80.4" height="37.5" fill="#fddfad" stroke="#000" stroke-width="0"/>
<rect x="874.3" y="1279.5" width="96.3" height="37.5" fill="none" stroke="#000" stroke-width="2"/>
<line x1="890.2" y1="1279.5" x2="890.2" y2="1317" stroke="#000" stroke-width="1.8"/>
<polygon points="840.5,1308.5 851.5,1289.9 858,1289.9 847,1308.5" fill="#fff" stroke="none" stroke-width="0"/>
<line x1="840.5" y1="1308.5" x2="851.5" y2="1289.9" stroke="#000" stroke-width="1.4"/>
<line x1="847" y1="1308.5" x2="858" y2="1289.9" stroke="#000" stroke-width="1.4"/>
<text x="748.25" y="1307.7" font-size="27.5" text-anchor="middle">tetO</text>
<text x="807.95" y="1307.7" font-size="27.5" text-anchor="middle">1</text>
<text x="930.4" y="1307.7" font-size="27.5" text-anchor="middle">26</text>
<path d="M685.4 1317 V1380.4 H789.6" fill="none" stroke="#000" stroke-width="1.8"/>
<polygon points="799.6,1380.4 784.6,1385.4 788.1,1380.4 784.6,1375.4" fill="#000" stroke="none" stroke-width="0"/>
<ellipse cx="733.6" cy="1252.9" rx="12.8" ry="26.2" fill="#e60012" stroke="#000" stroke-width="1.6"/>
<ellipse cx="756.3" cy="1252.9" rx="13.2" ry="26.2" fill="#e52620" stroke="#000" stroke-width="1.6"/>
<text x="585.5" y="1333.7" font-size="28.6" font-style="italic">Nkcc1</text>
<text x="587.5" y="1361.1" font-size="29">locus</text>
<path d="M769 1317 V1339.1 H895" fill="none" stroke="#e60012" stroke-width="1.9"/>
<polygon points="903.5,1339.1 888.5,1344.1 892,1339.1 888.5,1334.1" fill="#e60012" stroke="none" stroke-width="0"/>
<text x="800.5" y="1362.6" font-size="25.7">overexpression</text>
<text x="-1" y="1483.8" font-size="48">f</text>
<text x="93" y="1492.5" font-size="28.2">Day 1 (Conditioning)</text>
<text x="612.5" y="1491.4" font-size="28.4">Day 2 (Contextual test)</text>
<g transform="translate(60,1510) scale(0.21322)">
<polygon points="340,320 800,65 1770,65 1722,842 1360,1010 1240,1030 410,1030 410,320" fill="#e6e6e6"/>
<polygon points="410,1025 1240,1025 1720,800 890,800" fill="#e9e9e9"/>
<polygon points="752,95 800,68 895,68 895,822 752,822" fill="#4a4a4a"/>
<rect x="828" y="90" width="32" height="730" fill="#6e6e6e"/>
<rect x="790" y="95" width="8" height="725" fill="#5e5e5e"/>
<g clip-path="url(#floorclip)"><line x1="420" y1="1040" x2="925" y2="795" stroke="#3c3c3c" stroke-width="26" stroke-linecap="round"/><line x1="420" y1="1040" x2="925" y2="795" stroke="#ee9848" stroke-width="21.5" stroke-linecap="round"/><line x1="469" y1="1040" x2="964" y2="800" stroke="#3c3c3c" stroke-width="11"/><line x1="469" y1="1040" x2="964" y2="800" stroke="#f2f2f2" stroke-width="7"/><line x1="505" y1="1040" x2="1010" y2="795" stroke="#3c3c3c" stroke-width="26" stroke-linecap="round"/><line x1="505" y1="1040" x2="1010" y2="795" stroke="#ee9848" stroke-width="21.5" stroke-linecap="round"/><line x1="554" y1="1040" x2="1049" y2="800" stroke="#3c3c3c" stroke-width="11"/><line x1="554" y1="1040" x2="1049" y2="800" stroke="#f2f2f2" stroke-width="7"/><line x1="590" y1="1040" x2="1095" y2="795" stroke="#3c3c3c" stroke-width="26" stroke-linecap="round"/><line x1="590" y1="1040" x2="1095" y2="795" stroke="#ee9848" stroke-width="21.5" stroke-linecap="round"/><line x1="639" y1="1040" x2="1134" y2="800" stroke="#3c3c3c" stroke-width="11"/><line x1="639" y1="1040" x2="1134" y2="800" stroke="#f2f2f2" stroke-width="7"/><line x1="675" y1="1040" x2="1180" y2="795" stroke="#3c3c3c" stroke-width="26" stroke-linecap="round"/><line x1="675" y1="1040" x2="1180" y2="795" stroke="#ee9848" stroke-width="21.5" stroke-linecap="round"/><line x1="724" y1="1040" x2="1219" y2="800" stroke="#3c3c3c" stroke-width="11"/><line x1="724" y1="1040" x2="1219" y2="800" stroke="#f2f2f2" stroke-width="7"/><line x1="760" y1="1040" x2="1265" y2="795" stroke="#3c3c3c" stroke-width="26" stroke-linecap="round"/><line x1="760" y1="1040" x2="1265" y2="795" stroke="#ee9848" stroke-width="21.5" stroke-linecap="round"/><line x1="809" y1="1040" x2="1304" y2="800" stroke="#3c3c3c" stroke-width="11"/><line x1="809" y1="1040" x2="1304" y2="800" stroke="#f2f2f2" stroke-width="7"/><line x1="845" y1="1040" x2="1350" y2="795" stroke="#3c3c3c" stroke-width="26" stroke-linecap="round"/><line x1="845" y1="1040" x2="1350" y2="795" stroke="#ee9848" stroke-width="21.5" stroke-linecap="round"/><line x1="894" y1="1040" x2="1389" y2="800" stroke="#3c3c3c" stroke-width="11"/><line x1="894" y1="1040" x2="1389" y2="800" stroke="#f2f2f2" stroke-width="7"/><line x1="930" y1="1040" x2="1435" y2="795" stroke="#3c3c3c" stroke-width="26" stroke-linecap="round"/><line x1="930" y1="1040" x2="1435" y2="795" stroke="#ee9848" stroke-width="21.5" stroke-linecap="round"/><line x1="979" y1="1040" x2="1474" y2="800" stroke="#3c3c3c" stroke-width="11"/><line x1="979" y1="1040" x2="1474" y2="800" stroke="#f2f2f2" stroke-width="7"/><line x1="1015" y1="1040" x2="1520" y2="795" stroke="#3c3c3c" stroke-width="26" stroke-linecap="round"/><line x1="1015" y1="1040" x2="1520" y2="795" stroke="#ee9848" stroke-width="21.5" stroke-linecap="round"/><line x1="1064" y1="1040" x2="1559" y2="800" stroke="#3c3c3c" stroke-width="11"/><line x1="1064" y1="1040" x2="1559" y2="800" stroke="#f2f2f2" stroke-width="7"/><line x1="1100" y1="1040" x2="1605" y2="795" stroke="#3c3c3c" stroke-width="26" stroke-linecap="round"/><line x1="1100" y1="1040" x2="1605" y2="795" stroke="#ee9848" stroke-width="21.5" stroke-linecap="round"/><line x1="1149" y1="1040" x2="1644" y2="800" stroke="#3c3c3c" stroke-width="11"/><line x1="1149" y1="1040" x2="1644" y2="800" stroke="#f2f2f2" stroke-width="7"/><line x1="1185" y1="1040" x2="1690" y2="795" stroke="#3c3c3c" stroke-width="26" stroke-linecap="round"/><line x1="1185" y1="1040" x2="1690" y2="795" stroke="#ee9848" stroke-width="21.5" stroke-linecap="round"/><line x1="1234" y1="1040" x2="1729" y2="800" stroke="#3c3c3c" stroke-width="11"/><line x1="1234" y1="1040" x2="1729" y2="800" stroke="#f2f2f2" stroke-width="7"/><line x1="1270" y1="1040" x2="1775" y2="795" stroke="#3c3c3c" stroke-width="26" stroke-linecap="round"/><line x1="1270" y1="1040" x2="1775" y2="795" stroke="#ee9848" stroke-width="21.5" stroke-linecap="round"/><line x1="1319" y1="1040" x2="1814" y2="800" stroke="#3c3c3c" stroke-width="11"/><line x1="1319" y1="1040" x2="1814" y2="800" stroke="#f2f2f2" stroke-width="7"/><line x1="1355" y1="1040" x2="1860" y2="795" stroke="#3c3c3c" stroke-width="26" stroke-linecap="round"/><line x1="1355" y1="1040" x2="1860" y2="795" stroke="#ee9848" stroke-width="21.5" stroke-linecap="round"/><line x1="1404" y1="1040" x2="1899" y2="800" stroke="#3c3c3c" stroke-width="11"/><line x1="1404" y1="1040" x2="1899" y2="800" stroke="#f2f2f2" stroke-width="7"/><line x1="1440" y1="1040" x2="1945" y2="795" stroke="#3c3c3c" stroke-width="26" stroke-linecap="round"/><line x1="1440" y1="1040" x2="1945" y2="795" stroke="#ee9848" stroke-width="21.5" stroke-linecap="round"/><line x1="1489" y1="1040" x2="1984" y2="800" stroke="#3c3c3c" stroke-width="11"/><line x1="1489" y1="1040" x2="1984" y2="800" stroke="#f2f2f2" stroke-width="7"/><line x1="1525" y1="1040" x2="2030" y2="795" stroke="#3c3c3c" stroke-width="26" stroke-linecap="round"/><line x1="1525" y1="1040" x2="2030" y2="795" stroke="#ee9848" stroke-width="21.5" stroke-linecap="round"/><line x1="1574" y1="1040" x2="2069" y2="800" stroke="#3c3c3c" stroke-width="11"/><line x1="1574" y1="1040" x2="2069" y2="800" stroke="#f2f2f2" stroke-width="7"/><line x1="1610" y1="1040" x2="2115" y2="795" stroke="#3c3c3c" stroke-width="26" stroke-linecap="round"/><line x1="1610" y1="1040" x2="2115" y2="795" stroke="#ee9848" stroke-width="21.5" stroke-linecap="round"/><line x1="1659" y1="1040" x2="2154" y2="800" stroke="#3c3c3c" stroke-width="11"/><line x1="1659" y1="1040" x2="2154" y2="800" stroke="#f2f2f2" stroke-width="7"/></g>
<line x1="410" y1="1027" x2="1240" y2="1027" stroke="#000" stroke-width="6"/>
<line x1="1360" y1="1010" x2="1722" y2="842" stroke="#000" stroke-width="7"/>
<path d="M340,322 L800,68 L1770,68 M340,322 L1300,322 L1770,70" fill="none" stroke="#000" stroke-width="15" stroke-linejoin="miter"/>
<path d="M410,308 L815,88 L1720,88 M1300,315 L1720,92" fill="none" stroke="#777" stroke-width="5"/>
<rect x="315" y="312" width="97" height="938" fill="#000"/>
<rect x="350" y="345" width="28" height="870" fill="#444"/>
<polygon points="1236,312 1300,312 1360,300 1362,1230 1280,1255 1236,1250" fill="#000"/>
<rect x="1286" y="330" width="10" height="900" fill="#555"/>
<rect x="1318" y="330" width="10" height="880" fill="#555"/>
<polygon points="1715,50 1805,40 1812,995 1735,1022 1715,995" fill="#000"/>
<rect x="1760" y="95" width="10" height="880" fill="#555"/>
<polygon points="70,530 402,432 575,590 497,606 702,745 642,770 912,1010 455,828 547,800 265,690 372,656" fill="#ffc000" stroke="#000" stroke-width="8" stroke-linejoin="miter"/>
<path d="M695,725 C690,690 700,670 720,655 C745,635 790,615 840,600 C880,585 930,588 980,605 C1050,630 1110,680 1145,740 C1170,800 1160,860 1130,905 C1100,950 1070,985 1040,1030 C1010,1050 970,1055 945,1045 C960,1025 1000,1000 1030,975 C1050,955 1055,940 1040,925 C1000,900 975,870 970,820 C965,790 950,765 920,750 C880,735 840,735 810,745 C780,752 750,745 730,740 C715,737 700,733 695,725 Z" fill="#fff" stroke="#000" stroke-width="19" stroke-linejoin="round"/>
<ellipse cx="848" cy="610" rx="24" ry="44" fill="#000"/>
<path d="M700,690 C710,668 760,660 815,668 L812,690 C770,688 735,692 720,708 L746,745 L722,748 Z" fill="#000"/>
<ellipse cx="820" cy="735" rx="32" ry="38" fill="#000"/>
<rect x="746" y="722" width="22" height="34" fill="#000"/>
<ellipse cx="926" cy="864" rx="30" ry="24" fill="#000"/>
<path d="M985,880 C995,845 1030,828 1068,832" fill="none" stroke="#000" stroke-width="16" stroke-linecap="round"/>
</g>
<g transform="translate(542,1512.6) scale(0.21322)">
<polygon points="340,320 800,65 1770,65 1722,842 1360,1010 1240,1030 410,1030 410,320" fill="#e6e6e6"/>
<polygon points="410,1025 1240,1025 1720,800 890,800" fill="#e9e9e9"/>
<polygon points="752,95 800,68 895,68 895,822 752,822" fill="#4a4a4a"/>
<rect x="828" y="90" width="32" height="730" fill="#6e6e6e"/>
<rect x="790" y="95" width="8" height="725" fill="#5e5e5e"/>
<g clip-path="url(#floorclip)"><line x1="420" y1="1040" x2="925" y2="795" stroke="#3c3c3c" stroke-width="26" stroke-linecap="round"/><line x1="420" y1="1040" x2="925" y2="795" stroke="#ee9848" stroke-width="21.5" stroke-linecap="round"/><line x1="469" y1="1040" x2="964" y2="800" stroke="#3c3c3c" stroke-width="11"/><line x1="469" y1="1040" x2="964" y2="800" stroke="#f2f2f2" stroke-width="7"/><line x1="505" y1="1040" x2="1010" y2="795" stroke="#3c3c3c" stroke-width="26" stroke-linecap="round"/><line x1="505" y1="1040" x2="1010" y2="795" stroke="#ee9848" stroke-width="21.5" stroke-linecap="round"/><line x1="554" y1="1040" x2="1049" y2="800" stroke="#3c3c3c" stroke-width="11"/><line x1="554" y1="1040" x2="1049" y2="800" stroke="#f2f2f2" stroke-width="7"/><line x1="590" y1="1040" x2="1095" y2="795" stroke="#3c3c3c" stroke-width="26" stroke-linecap="round"/><line x1="590" y1="1040" x2="1095" y2="795" stroke="#ee9848" stroke-width="21.5" stroke-linecap="round"/><line x1="639" y1="1040" x2="1134" y2="800" stroke="#3c3c3c" stroke-width="11"/><line x1="639" y1="1040" x2="1134" y2="800" stroke="#f2f2f2" stroke-width="7"/><line x1="675" y1="1040" x2="1180" y2="795" stroke="#3c3c3c" stroke-width="26" stroke-linecap="round"/><line x1="675" y1="1040" x2="1180" y2="795" stroke="#ee9848" stroke-width="21.5" stroke-linecap="round"/><line x1="724" y1="1040" x2="1219" y2="800" stroke="#3c3c3c" stroke-width="11"/><line x1="724" y1="1040" x2="1219" y2="800" stroke="#f2f2f2" stroke-width="7"/><line x1="760" y1="1040" x2="1265" y2="795" stroke="#3c3c3c" stroke-width="26" stroke-linecap="round"/><line x1="760" y1="1040" x2="1265" y2="795" stroke="#ee9848" stroke-width="21.5" stroke-linecap="round"/><line x1="809" y1="1040" x2="1304" y2="800" stroke="#3c3c3c" stroke-width="11"/><line x1="809" y1="1040" x2="1304" y2="800" stroke="#f2f2f2" stroke-width="7"/><line x1="845" y1="1040" x2="1350" y2="795" stroke="#3c3c3c" stroke-width="26" stroke-linecap="round"/><line x1="845" y1="1040" x2="1350" y2="795" stroke="#ee9848" stroke-width="21.5" stroke-linecap="round"/><line x1="894" y1="1040" x2="1389" y2="800" stroke="#3c3c3c" stroke-width="11"/><line x1="894" y1="1040" x2="1389" y2="800" stroke="#f2f2f2" stroke-width="7"/><line x1="930" y1="1040" x2="1435" y2="795" stroke="#3c3c3c" stroke-width="26" stroke-linecap="round"/><line x1="930" y1="1040" x2="1435" y2="795" stroke="#ee9848" stroke-width="21.5" stroke-linecap="round"/><line x1="979" y1="1040" x2="1474" y2="800" stroke="#3c3c3c" stroke-width="11"/><line x1="979" y1="1040" x2="1474" y2="800" stroke="#f2f2f2" stroke-width="7"/><line x1="1015" y1="1040" x2="1520" y2="795" stroke="#3c3c3c" stroke-width="26" stroke-linecap="round"/><line x1="1015" y1="1040" x2="1520" y2="795" stroke="#ee9848" stroke-width="21.5" stroke-linecap="round"/><line x1="1064" y1="1040" x2="1559" y2="800" stroke="#3c3c3c" stroke-width="11"/><line x1="1064" y1="1040" x2="1559" y2="800" stroke="#f2f2f2" stroke-width="7"/><line x1="1100" y1="1040" x2="1605" y2="795" stroke="#3c3c3c" stroke-width="26" stroke-linecap="round"/><line x1="1100" y1="1040" x2="1605" y2="795" stroke="#ee9848" stroke-width="21.5" stroke-linecap="round"/><line x1="1149" y1="1040" x2="1644" y2="800" stroke="#3c3c3c" stroke-width="11"/><line x1="1149" y1="1040" x2="1644" y2="800" stroke="#f2f2f2" stroke-width="7"/><line x1="1185" y1="1040" x2="1690" y2="795" stroke="#3c3c3c" stroke-width="26" stroke-linecap="round"/><line x1="1185" y1="1040" x2="1690" y2="795" stroke="#ee9848" stroke-width="21.5" stroke-linecap="round"/><line x1="1234" y1="1040" x2="1729" y2="800" stroke="#3c3c3c" stroke-width="11"/><line x1="1234" y1="1040" x2="1729" y2="800" stroke="#f2f2f2" stroke-width="7"/><line x1="1270" y1="1040" x2="1775" y2="795" stroke="#3c3c3c" stroke-width="26" stroke-linecap="round"/><line x1="1270" y1="1040" x2="1775" y2="795" stroke="#ee9848" stroke-width="21.5" stroke-linecap="round"/><line x1="1319" y1="1040" x2="1814" y2="800" stroke="#3c3c3c" stroke-width="11"/><line x1="1319" y1="1040" x2="1814" y2="800" stroke="#f2f2f2" stroke-width="7"/><line x1="1355" y1="1040" x2="1860" y2="795" stroke="#3c3c3c" stroke-width="26" stroke-linecap="round"/><line x1="1355" y1="1040" x2="1860" y2="795" stroke="#ee9848" stroke-width="21.5" stroke-linecap="round"/><line x1="1404" y1="1040" x2="1899" y2="800" stroke="#3c3c3c" stroke-width="11"/><line x1="1404" y1="1040" x2="1899" y2="800" stroke="#f2f2f2" stroke-width="7"/><line x1="1440" y1="1040" x2="1945" y2="795" stroke="#3c3c3c" stroke-width="26" stroke-linecap="round"/><line x1="1440" y1="1040" x2="1945" y2="795" stroke="#ee9848" stroke-width="21.5" stroke-linecap="round"/><line x1="1489" y1="1040" x2="1984" y2="800" stroke="#3c3c3c" stroke-width="11"/><line x1="1489" y1="1040" x2="1984" y2="800" stroke="#f2f2f2" stroke-width="7"/><line x1="1525" y1="1040" x2="2030" y2="795" stroke="#3c3c3c" stroke-width="26" stroke-linecap="round"/><line x1="1525" y1="1040" x2="2030" y2="795" stroke="#ee9848" stroke-width="21.5" stroke-linecap="round"/><line x1="1574" y1="1040" x2="2069" y2="800" stroke="#3c3c3c" stroke-width="11"/><line x1="1574" y1="1040" x2="2069" y2="800" stroke="#f2f2f2" stroke-width="7"/><line x1="1610" y1="1040" x2="2115" y2="795" stroke="#3c3c3c" stroke-width="26" stroke-linecap="round"/><line x1="1610" y1="1040" x2="2115" y2="795" stroke="#ee9848" stroke-width="21.5" stroke-linecap="round"/><line x1="1659" y1="1040" x2="2154" y2="800" stroke="#3c3c3c" stroke-width="11"/><line x1="1659" y1="1040" x2="2154" y2="800" stroke="#f2f2f2" stroke-width="7"/></g>
<line x1="410" y1="1027" x2="1240" y2="1027" stroke="#000" stroke-width="6"/>
<line x1="1360" y1="1010" x2="1722" y2="842" stroke="#000" stroke-width="7"/>
<path d="M340,322 L800,68 L1770,68 M340,322 L1300,322 L1770,70" fill="none" stroke="#000" stroke-width="15" stroke-linejoin="miter"/>
<path d="M410,308 L815,88 L1720,88 M1300,315 L1720,92" fill="none" stroke="#777" stroke-width="5"/>
<rect x="315" y="312" width="97" height="938" fill="#000"/>
<rect x="350" y="345" width="28" height="870" fill="#444"/>
<polygon points="1236,312 1300,312 1360,300 1362,1230 1280,1255 1236,1250" fill="#000"/>
<rect x="1286" y="330" width="10" height="900" fill="#555"/>
<rect x="1318" y="330" width="10" height="880" fill="#555"/>
<polygon points="1715,50 1805,40 1812,995 1735,1022 1715,995" fill="#000"/>
<rect x="1760" y="95" width="10" height="880" fill="#555"/>
<path d="M702,912 C690,880 720,830 760,800 C790,780 815,772 845,760 C890,722 940,682 980,652 C1020,626 1080,624 1122,640 C1182,668 1215,722 1202,790 C1188,850 1142,890 1082,925 C1022,955 950,962 880,960 C820,958 762,946 732,936 C712,928 702,920 702,912 Z" fill="#fff" stroke="#000" stroke-width="19" stroke-linejoin="round"/>
<path d="M1195,760 C1180,830 1140,880 1075,915" fill="none" stroke="#000" stroke-width="7"/>
<path d="M812,792 L800,712 Q806,698 818,712 L852,752" fill="#fff" stroke="#000" stroke-width="15" stroke-linejoin="round"/>
<ellipse cx="866" cy="790" rx="31" ry="41" fill="#fff" stroke="#000" stroke-width="15"/>
<ellipse cx="862" cy="795" rx="12" ry="14" fill="none" stroke="#000" stroke-width="9"/>
<rect x="775" y="834" width="30" height="40" fill="#000"/>
<path d="M712,842 L672,812 M708,852 L660,848 M700,838 L688,805" stroke="#000" stroke-width="12"/>
<path d="M760,935 L770,965 M790,945 L800,975 M830,950 L835,975 M900,958 L905,975" stroke="#000" stroke-width="16"/>
</g>
<polygon points="481.8,1624.7 534.6,1624.7 534.6,1613.2 574.6,1637 534.6,1660.7 534.6,1648.4 481.8,1648.4" fill="#000" stroke="none" stroke-width="0"/>
<text x="489.3" y="1703.8" font-size="34">24 h</text>
<text x="91.5" y="1825.5" font-size="28.2">Day 1 (Conditioning)</text>
<text x="143.3" y="1867.5" font-size="29.5">0</text>
<text x="503.3" y="1867.5" font-size="29.5">3</text>
<text x="618.8" y="1867.5" font-size="29.5">4</text>
<text x="764.8" y="1867.5" font-size="29.5">5 min</text>
<line x1="151.75" y1="1894" x2="778" y2="1894" stroke="#000" stroke-width="7"/>
<polygon points="775,1876.3 805.5,1894 775,1912" fill="#000" stroke="none" stroke-width="0"/>
<line x1="514.25" y1="1915" x2="514.25" y2="1944.5" stroke="#e60012" stroke-width="5.2"/>
<polygon points="514.25,1900.5 526.15,1921.3 502.35,1921.3" fill="#e60012" stroke="none" stroke-width="0"/>
<line x1="628" y1="1915" x2="628" y2="1944.5" stroke="#e60012" stroke-width="5.2"/>
<polygon points="628,1900.5 639.9,1921.3 616.1,1921.3" fill="#e60012" stroke="none" stroke-width="0"/>
<text x="426" y="1974.5" font-size="28.35" fill="#e60012">Foot shock (0.4 mA, 2 s)</text>
<text x="91.5" y="1998.8" font-size="28.4">Day 2 (Contextual test)</text>
<text x="143.3" y="2044.8" font-size="29.5">0</text>
<text x="756.5" y="2044.8" font-size="29.5">10 min</text>
<line x1="151.75" y1="2070.4" x2="778" y2="2070.4" stroke="#000" stroke-width="7"/>
<polygon points="775,2052.5 805.5,2070.4 775,2088" fill="#000" stroke="none" stroke-width="0"/>
<text x="1065.7" y="960.2" font-size="48">g</text>
<text transform="translate(1092,1234.8) rotate(-90)" font-size="28.87" text-anchor="middle">Total freezing at Day 1 (%)</text>
<line x1="1165.6" y1="1045.2" x2="1165.6" y2="1435.4" stroke="#000" stroke-width="2.6"/>
<line x1="1158.1" y1="1434.1" x2="1432.8" y2="1434.1" stroke="#000" stroke-width="2.6"/>
<line x1="1158.1" y1="1434.1" x2="1165.6" y2="1434.1" stroke="#000" stroke-width="2.4"/>
<text x="1153.5" y="1443.3" font-size="26.4" text-anchor="end">0</text>
<line x1="1158.1" y1="1356.52" x2="1165.6" y2="1356.52" stroke="#000" stroke-width="2.4"/>
<text x="1153.5" y="1365.72" font-size="26.4" text-anchor="end">20</text>
<line x1="1158.1" y1="1278.94" x2="1165.6" y2="1278.94" stroke="#000" stroke-width="2.4"/>
<text x="1153.5" y="1288.14" font-size="26.4" text-anchor="end">40</text>
<line x1="1158.1" y1="1201.36" x2="1165.6" y2="1201.36" stroke="#000" stroke-width="2.4"/>
<text x="1153.5" y="1210.56" font-size="26.4" text-anchor="end">60</text>
<line x1="1158.1" y1="1123.78" x2="1165.6" y2="1123.78" stroke="#000" stroke-width="2.4"/>
<text x="1153.5" y="1132.98" font-size="26.4" text-anchor="end">80</text>
<line x1="1158.1" y1="1046.2" x2="1165.6" y2="1046.2" stroke="#000" stroke-width="2.4"/>
<text x="1153.5" y="1055.4" font-size="26.4" text-anchor="end">100</text>
<rect x="1233.5" y="1379.41" width="41.6" height="54.69" fill="#404040" stroke="#000" stroke-width="1.3"/>
<line x1="1254.3" y1="1379.41" x2="1254.3" y2="1373.59" stroke="#000" stroke-width="1.4"/>
<line x1="1247.8" y1="1373.59" x2="1260.8" y2="1373.59" stroke="#000" stroke-width="1.4"/>
<circle cx="1205" cy="1325.49" r="7.4" fill="#404040" stroke="#000" stroke-width="1.1"/>
<circle cx="1199.9" cy="1367.77" r="7.4" fill="#404040" stroke="#000" stroke-width="1.1"/>
<circle cx="1210.8" cy="1365.05" r="7.4" fill="#404040" stroke="#000" stroke-width="1.1"/>
<circle cx="1205" cy="1360.4" r="7.4" fill="#404040" stroke="#000" stroke-width="1.1"/>
<circle cx="1205" cy="1377.08" r="7.4" fill="#404040" stroke="#000" stroke-width="1.1"/>
<circle cx="1199.9" cy="1387.94" r="7.4" fill="#404040" stroke="#000" stroke-width="1.1"/>
<circle cx="1210.8" cy="1386.78" r="7.4" fill="#404040" stroke="#000" stroke-width="1.1"/>
<circle cx="1199.9" cy="1397.64" r="7.4" fill="#404040" stroke="#000" stroke-width="1.1"/>
<circle cx="1210.8" cy="1396.86" r="7.4" fill="#404040" stroke="#000" stroke-width="1.1"/>
<circle cx="1205" cy="1399.19" r="7.4" fill="#404040" stroke="#000" stroke-width="1.1"/>
<circle cx="1205" cy="1408.5" r="7.4" fill="#404040" stroke="#000" stroke-width="1.1"/>
<rect x="1356.6" y="1376.3" width="41.6" height="57.8" fill="#00ffff" stroke="#000" stroke-width="1.3"/>
<line x1="1377.4" y1="1376.3" x2="1377.4" y2="1373.2" stroke="#000" stroke-width="1.4"/>
<line x1="1370.9" y1="1373.2" x2="1383.9" y2="1373.2" stroke="#000" stroke-width="1.4"/>
<circle cx="1322.3" cy="1360.01" r="7.4" fill="#00ffff" stroke="#000" stroke-width="1.1"/>
<circle cx="1332.9" cy="1359.62" r="7.4" fill="#00ffff" stroke="#000" stroke-width="1.1"/>
<circle cx="1322.3" cy="1370.87" r="7.4" fill="#00ffff" stroke="#000" stroke-width="1.1"/>
<circle cx="1332.9" cy="1370.1" r="7.4" fill="#00ffff" stroke="#000" stroke-width="1.1"/>
<circle cx="1327.8" cy="1372.42" r="7.4" fill="#00ffff" stroke="#000" stroke-width="1.1"/>
<circle cx="1322.3" cy="1377.47" r="7.4" fill="#00ffff" stroke="#000" stroke-width="1.1"/>
<circle cx="1332.9" cy="1376.3" r="7.4" fill="#00ffff" stroke="#000" stroke-width="1.1"/>
<circle cx="1322.3" cy="1385.22" r="7.4" fill="#00ffff" stroke="#000" stroke-width="1.1"/>
<circle cx="1332.9" cy="1384.06" r="7.4" fill="#00ffff" stroke="#000" stroke-width="1.1"/>
<circle cx="1327.8" cy="1386.78" r="7.4" fill="#00ffff" stroke="#000" stroke-width="1.1"/>
<circle cx="1322.3" cy="1392.21" r="7.4" fill="#00ffff" stroke="#000" stroke-width="1.1"/>
<circle cx="1332.9" cy="1391.82" r="7.4" fill="#00ffff" stroke="#000" stroke-width="1.1"/>
<circle cx="1327.8" cy="1398.8" r="7.4" fill="#00ffff" stroke="#000" stroke-width="1.1"/>
<text x="1234.6" y="1469.4" font-size="25.6" text-anchor="middle">Control</text>
<text x="1371.4" y="1469.4" font-size="25.6" text-anchor="middle">NKCC1-OE</text>
<line x1="1512.4" y1="1048.3" x2="1512.4" y2="1443" stroke="#000" stroke-width="2.6"/>
<line x1="1511.1" y1="1441.7" x2="1999.6" y2="1441.7" stroke="#000" stroke-width="2.6"/>
<line x1="1504.9" y1="1434.2" x2="1512.4" y2="1434.2" stroke="#000" stroke-width="2.4"/>
<text x="1498" y="1443.4" font-size="26.4" text-anchor="end">0</text>
<line x1="1504.9" y1="1357.22" x2="1512.4" y2="1357.22" stroke="#000" stroke-width="2.4"/>
<text x="1498" y="1366.42" font-size="26.4" text-anchor="end">20</text>
<line x1="1504.9" y1="1280.24" x2="1512.4" y2="1280.24" stroke="#000" stroke-width="2.4"/>
<text x="1498" y="1289.44" font-size="26.4" text-anchor="end">40</text>
<line x1="1504.9" y1="1203.26" x2="1512.4" y2="1203.26" stroke="#000" stroke-width="2.4"/>
<text x="1498" y="1212.46" font-size="26.4" text-anchor="end">60</text>
<line x1="1504.9" y1="1126.28" x2="1512.4" y2="1126.28" stroke="#000" stroke-width="2.4"/>
<text x="1498" y="1135.48" font-size="26.4" text-anchor="end">80</text>
<line x1="1504.9" y1="1049.3" x2="1512.4" y2="1049.3" stroke="#000" stroke-width="2.4"/>
<text x="1498" y="1058.5" font-size="26.4" text-anchor="end">100</text>
<line x1="1512.4" y1="1441.7" x2="1512.4" y2="1450.2" stroke="#000" stroke-width="2.4"/>
<line x1="1609.9" y1="1441.7" x2="1609.9" y2="1450.2" stroke="#000" stroke-width="2.4"/>
<line x1="1707" y1="1441.7" x2="1707" y2="1450.2" stroke="#000" stroke-width="2.4"/>
<line x1="1804.2" y1="1441.7" x2="1804.2" y2="1450.2" stroke="#000" stroke-width="2.4"/>
<line x1="1902" y1="1441.7" x2="1902" y2="1450.2" stroke="#000" stroke-width="2.4"/>
<line x1="1998.6" y1="1441.7" x2="1998.6" y2="1450.2" stroke="#000" stroke-width="2.4"/>
<text x="1575" y="1480.2" font-size="27.2" text-anchor="middle" word-spacing="-3.3">0 - 1</text>
<text x="1667" y="1480.2" font-size="27.2" text-anchor="middle" word-spacing="-3.3">1 - 2</text>
<text x="1762.7" y="1480.2" font-size="27.2" text-anchor="middle" word-spacing="-3.3">2 - 3</text>
<text x="1857.2" y="1480.2" font-size="27.2" text-anchor="middle" word-spacing="-3.3">3 - 4</text>
<text x="1958.1" y="1480.2" font-size="27.2" text-anchor="middle" word-spacing="-3.3">4 - 5</text>
<text x="1764.8" y="1511.4" font-size="28.3" text-anchor="middle">Time (min)</text>
<line x1="1950.8" y1="1261.38" x2="1950.8" y2="1275.62" stroke="#000" stroke-width="1.4"/>
<line x1="1945.3" y1="1275.62" x2="1956.3" y2="1275.62" stroke="#000" stroke-width="1.4"/>
<polyline points="1561.1,1431.51 1658.3,1433.05 1756.1,1422.65 1853.6,1348.75 1950.8,1261.38" fill="none" stroke="#000" stroke-width="1.3"/>
<circle cx="1561.1" cy="1431.51" r="7.2" fill="#404040" stroke="#000" stroke-width="1"/>
<circle cx="1658.3" cy="1433.05" r="7.2" fill="#404040" stroke="#000" stroke-width="1"/>
<circle cx="1756.1" cy="1422.65" r="7.2" fill="#404040" stroke="#000" stroke-width="1"/>
<circle cx="1853.6" cy="1348.75" r="7.2" fill="#404040" stroke="#000" stroke-width="1"/>
<circle cx="1950.8" cy="1261.38" r="7.2" fill="#404040" stroke="#000" stroke-width="1"/>
<line x1="1853.6" y1="1353.37" x2="1853.6" y2="1364.92" stroke="#000" stroke-width="1.4"/>
<line x1="1848.1" y1="1364.92" x2="1859.1" y2="1364.92" stroke="#000" stroke-width="1.4"/>
<line x1="1950.8" y1="1240.6" x2="1950.8" y2="1230.2" stroke="#000" stroke-width="1.4"/>
<line x1="1945.3" y1="1230.2" x2="1956.3" y2="1230.2" stroke="#000" stroke-width="1.4"/>
<polyline points="1561.1,1432.28 1658.3,1433.05 1756.1,1422.27 1853.6,1353.37 1950.8,1240.6" fill="none" stroke="#000" stroke-width="1.3"/>
<circle cx="1561.1" cy="1432.28" r="7.2" fill="#00ffff" stroke="#000" stroke-width="1"/>
<circle cx="1658.3" cy="1433.05" r="7.2" fill="#00ffff" stroke="#000" stroke-width="1"/>
<circle cx="1756.1" cy="1422.27" r="7.2" fill="#00ffff" stroke="#000" stroke-width="1"/>
<circle cx="1853.6" cy="1353.37" r="7.2" fill="#00ffff" stroke="#000" stroke-width="1"/>
<circle cx="1950.8" cy="1240.6" r="7.2" fill="#00ffff" stroke="#000" stroke-width="1"/>
<text x="1065" y="1573.9" font-size="48">h</text>
<text transform="translate(1092,1839.75) rotate(-90)" font-size="28.87" text-anchor="middle">Total freezing at Day 2 (%)</text>
<line x1="1165.6" y1="1644.8" x2="1165.6" y2="2034.4" stroke="#000" stroke-width="2.6"/>
<line x1="1158.1" y1="2033.1" x2="1432.8" y2="2033.1" stroke="#000" stroke-width="2.6"/>
<line x1="1158.1" y1="2033.1" x2="1165.6" y2="2033.1" stroke="#000" stroke-width="2.4"/>
<text x="1153.5" y="2042.3" font-size="26.4" text-anchor="end">0</text>
<line x1="1158.1" y1="1955.64" x2="1165.6" y2="1955.64" stroke="#000" stroke-width="2.4"/>
<text x="1153.5" y="1964.84" font-size="26.4" text-anchor="end">20</text>
<line x1="1158.1" y1="1878.18" x2="1165.6" y2="1878.18" stroke="#000" stroke-width="2.4"/>
<text x="1153.5" y="1887.38" font-size="26.4" text-anchor="end">40</text>
<line x1="1158.1" y1="1800.72" x2="1165.6" y2="1800.72" stroke="#000" stroke-width="2.4"/>
<text x="1153.5" y="1809.92" font-size="26.4" text-anchor="end">60</text>
<line x1="1158.1" y1="1723.26" x2="1165.6" y2="1723.26" stroke="#000" stroke-width="2.4"/>
<text x="1153.5" y="1732.46" font-size="26.4" text-anchor="end">80</text>
<line x1="1158.1" y1="1645.8" x2="1165.6" y2="1645.8" stroke="#000" stroke-width="2.4"/>
<text x="1153.5" y="1655" font-size="26.4" text-anchor="end">100</text>
<rect x="1233.5" y="1823.96" width="41.6" height="209.14" fill="#404040" stroke="#000" stroke-width="1.3"/>
<line x1="1254.3" y1="1823.96" x2="1254.3" y2="1807.3" stroke="#000" stroke-width="1.4"/>
<line x1="1247.8" y1="1807.3" x2="1260.8" y2="1807.3" stroke="#000" stroke-width="1.4"/>
<circle cx="1205" cy="1956.8" r="7.4" fill="#404040" stroke="#000" stroke-width="1.1"/>
<circle cx="1205" cy="1925.82" r="7.4" fill="#404040" stroke="#000" stroke-width="1.1"/>
<circle cx="1205" cy="1872.37" r="7.4" fill="#404040" stroke="#000" stroke-width="1.1"/>
<circle cx="1205" cy="1856.1" r="7.4" fill="#404040" stroke="#000" stroke-width="1.1"/>
<circle cx="1205" cy="1847.97" r="7.4" fill="#404040" stroke="#000" stroke-width="1.1"/>
<circle cx="1205" cy="1830.93" r="7.4" fill="#404040" stroke="#000" stroke-width="1.1"/>
<circle cx="1199" cy="1809.63" r="7.4" fill="#404040" stroke="#000" stroke-width="1.1"/>
<circle cx="1210.5" cy="1808.08" r="7.4" fill="#404040" stroke="#000" stroke-width="1.1"/>
<circle cx="1205" cy="1795.69" r="7.4" fill="#404040" stroke="#000" stroke-width="1.1"/>
<circle cx="1205" cy="1778.64" r="7.4" fill="#404040" stroke="#000" stroke-width="1.1"/>
<circle cx="1199" cy="1767.41" r="7.4" fill="#404040" stroke="#000" stroke-width="1.1"/>
<circle cx="1210.5" cy="1762.38" r="7.4" fill="#404040" stroke="#000" stroke-width="1.1"/>
<circle cx="1205" cy="1766.64" r="7.4" fill="#404040" stroke="#000" stroke-width="1.1"/>
<circle cx="1205" cy="1758.12" r="7.4" fill="#404040" stroke="#000" stroke-width="1.1"/>
<rect x="1356.6" y="1747.66" width="41.6" height="285.44" fill="#00ffff" stroke="#000" stroke-width="1.3"/>
<line x1="1377.4" y1="1747.66" x2="1377.4" y2="1735.27" stroke="#000" stroke-width="1.4"/>
<line x1="1370.9" y1="1735.27" x2="1383.9" y2="1735.27" stroke="#000" stroke-width="1.4"/>
<circle cx="1327.8" cy="1825.12" r="7.4" fill="#00ffff" stroke="#000" stroke-width="1.1"/>
<circle cx="1327.8" cy="1808.08" r="7.4" fill="#00ffff" stroke="#000" stroke-width="1.1"/>
<circle cx="1327.8" cy="1794.14" r="7.4" fill="#00ffff" stroke="#000" stroke-width="1.1"/>
<circle cx="1327.8" cy="1790.65" r="7.4" fill="#00ffff" stroke="#000" stroke-width="1.1"/>
<circle cx="1327.8" cy="1772.45" r="7.4" fill="#00ffff" stroke="#000" stroke-width="1.1"/>
<circle cx="1322.3" cy="1758.89" r="7.4" fill="#00ffff" stroke="#000" stroke-width="1.1"/>
<circle cx="1327.8" cy="1756.18" r="7.4" fill="#00ffff" stroke="#000" stroke-width="1.1"/>
<circle cx="1332.6" cy="1753.08" r="7.4" fill="#00ffff" stroke="#000" stroke-width="1.1"/>
<circle cx="1327.8" cy="1746.11" r="7.4" fill="#00ffff" stroke="#000" stroke-width="1.1"/>
<circle cx="1327.8" cy="1735.65" r="7.4" fill="#00ffff" stroke="#000" stroke-width="1.1"/>
<circle cx="1322.3" cy="1713.58" r="7.4" fill="#00ffff" stroke="#000" stroke-width="1.1"/>
<circle cx="1327.8" cy="1710.48" r="7.4" fill="#00ffff" stroke="#000" stroke-width="1.1"/>
<circle cx="1332.6" cy="1706.99" r="7.4" fill="#00ffff" stroke="#000" stroke-width="1.1"/>
<circle cx="1327.8" cy="1679.5" r="7.4" fill="#00ffff" stroke="#000" stroke-width="1.1"/>
<circle cx="1327.8" cy="1665.55" r="7.4" fill="#00ffff" stroke="#000" stroke-width="1.1"/>
<text x="1234.6" y="2068.4" font-size="25.6" text-anchor="middle">Control</text>
<text x="1371.4" y="2068.4" font-size="25.6" text-anchor="middle">NKCC1-OE</text>
<text x="1356.4" y="1648.3" font-size="38" text-anchor="middle" font-weight="bold">*</text>
<line x1="1510.3" y1="1652.2" x2="1510.3" y2="2033.4" stroke="#000" stroke-width="2.6"/>
<line x1="1509" y1="2032.1" x2="1982.3" y2="2032.1" stroke="#000" stroke-width="2.6"/>
<line x1="1502.8" y1="2032.1" x2="1510.3" y2="2032.1" stroke="#000" stroke-width="2.4"/>
<text x="1498" y="2041.3" font-size="26.4" text-anchor="end">0</text>
<line x1="1502.8" y1="1956.32" x2="1510.3" y2="1956.32" stroke="#000" stroke-width="2.4"/>
<text x="1498" y="1965.52" font-size="26.4" text-anchor="end">20</text>
<line x1="1502.8" y1="1880.54" x2="1510.3" y2="1880.54" stroke="#000" stroke-width="2.4"/>
<text x="1498" y="1889.74" font-size="26.4" text-anchor="end">40</text>
<line x1="1502.8" y1="1804.76" x2="1510.3" y2="1804.76" stroke="#000" stroke-width="2.4"/>
<text x="1498" y="1813.96" font-size="26.4" text-anchor="end">60</text>
<line x1="1502.8" y1="1728.98" x2="1510.3" y2="1728.98" stroke="#000" stroke-width="2.4"/>
<text x="1498" y="1738.18" font-size="26.4" text-anchor="end">80</text>
<line x1="1502.8" y1="1653.2" x2="1510.3" y2="1653.2" stroke="#000" stroke-width="2.4"/>
<text x="1498" y="1662.4" font-size="26.4" text-anchor="end">100</text>
<line x1="1510.3" y1="2032.1" x2="1510.3" y2="2040.6" stroke="#000" stroke-width="2.4"/>
<line x1="1604.5" y1="2032.1" x2="1604.5" y2="2040.6" stroke="#000" stroke-width="2.4"/>
<line x1="1698.7" y1="2032.1" x2="1698.7" y2="2040.6" stroke="#000" stroke-width="2.4"/>
<line x1="1793.5" y1="2032.1" x2="1793.5" y2="2040.6" stroke="#000" stroke-width="2.4"/>
<line x1="1887.7" y1="2032.1" x2="1887.7" y2="2040.6" stroke="#000" stroke-width="2.4"/>
<line x1="1981.3" y1="2032.1" x2="1981.3" y2="2040.6" stroke="#000" stroke-width="2.4"/>
<text x="1562.3" y="2065" font-size="27.2" text-anchor="middle" word-spacing="-3.3">0 - 2</text>
<text x="1651.6" y="2065" font-size="27.2" text-anchor="middle" word-spacing="-3.3">2 - 4</text>
<text x="1747.4" y="2065" font-size="27.2" text-anchor="middle" word-spacing="-3.3">4 - 6</text>
<text x="1842.7" y="2065" font-size="27.2" text-anchor="middle" word-spacing="-3.3">6 - 8</text>
<text x="1936.7" y="2065" font-size="27.2" text-anchor="middle" word-spacing="-3.3">8 - 10</text>
<text x="1750.5" y="2097.9" font-size="28.3" text-anchor="middle">Time (min)</text>
<line x1="1558.1" y1="1829.39" x2="1558.1" y2="1859.7" stroke="#000" stroke-width="1.4"/>
<line x1="1552.6" y1="1859.7" x2="1563.6" y2="1859.7" stroke="#000" stroke-width="1.4"/>
<line x1="1651.7" y1="1783.92" x2="1651.7" y2="1811.58" stroke="#000" stroke-width="1.4"/>
<line x1="1646.2" y1="1811.58" x2="1657.2" y2="1811.58" stroke="#000" stroke-width="1.4"/>
<line x1="1745.6" y1="1816.13" x2="1745.6" y2="1836.97" stroke="#000" stroke-width="1.4"/>
<line x1="1740.1" y1="1836.97" x2="1751.1" y2="1836.97" stroke="#000" stroke-width="1.4"/>
<line x1="1840.1" y1="1823.33" x2="1840.1" y2="1853.26" stroke="#000" stroke-width="1.4"/>
<line x1="1834.6" y1="1853.26" x2="1845.6" y2="1853.26" stroke="#000" stroke-width="1.4"/>
<line x1="1934" y1="1834.69" x2="1934" y2="1858.94" stroke="#000" stroke-width="1.4"/>
<line x1="1928.5" y1="1858.94" x2="1939.5" y2="1858.94" stroke="#000" stroke-width="1.4"/>
<polyline points="1558.1,1829.39 1651.7,1783.92 1745.6,1816.13 1840.1,1823.33 1934,1834.69" fill="none" stroke="#000" stroke-width="1.3"/>
<circle cx="1558.1" cy="1829.39" r="7.2" fill="#404040" stroke="#000" stroke-width="1"/>
<circle cx="1651.7" cy="1783.92" r="7.2" fill="#404040" stroke="#000" stroke-width="1"/>
<circle cx="1745.6" cy="1816.13" r="7.2" fill="#404040" stroke="#000" stroke-width="1"/>
<circle cx="1840.1" cy="1823.33" r="7.2" fill="#404040" stroke="#000" stroke-width="1"/>
<circle cx="1934" cy="1834.69" r="7.2" fill="#404040" stroke="#000" stroke-width="1"/>
<line x1="1558.1" y1="1777.48" x2="1558.1" y2="1748.68" stroke="#000" stroke-width="1.4"/>
<line x1="1552.6" y1="1748.68" x2="1563.6" y2="1748.68" stroke="#000" stroke-width="1.4"/>
<line x1="1651.7" y1="1739.97" x2="1651.7" y2="1717.23" stroke="#000" stroke-width="1.4"/>
<line x1="1646.2" y1="1717.23" x2="1657.2" y2="1717.23" stroke="#000" stroke-width="1.4"/>
<line x1="1745.6" y1="1741.1" x2="1745.6" y2="1722.54" stroke="#000" stroke-width="1.4"/>
<line x1="1740.1" y1="1722.54" x2="1751.1" y2="1722.54" stroke="#000" stroke-width="1.4"/>
<line x1="1840.1" y1="1743.38" x2="1840.1" y2="1714.96" stroke="#000" stroke-width="1.4"/>
<line x1="1834.6" y1="1714.96" x2="1845.6" y2="1714.96" stroke="#000" stroke-width="1.4"/>
<line x1="1934" y1="1780.89" x2="1934" y2="1751.71" stroke="#000" stroke-width="1.4"/>
<line x1="1928.5" y1="1751.71" x2="1939.5" y2="1751.71" stroke="#000" stroke-width="1.4"/>
<polyline points="1558.1,1777.48 1651.7,1739.97 1745.6,1741.1 1840.1,1743.38 1934,1780.89" fill="none" stroke="#000" stroke-width="1.3"/>
<circle cx="1558.1" cy="1777.48" r="7.2" fill="#00ffff" stroke="#000" stroke-width="1"/>
<circle cx="1651.7" cy="1739.97" r="7.2" fill="#00ffff" stroke="#000" stroke-width="1"/>
<circle cx="1745.6" cy="1741.1" r="7.2" fill="#00ffff" stroke="#000" stroke-width="1"/>
<circle cx="1840.1" cy="1743.38" r="7.2" fill="#00ffff" stroke="#000" stroke-width="1"/>
<circle cx="1934" cy="1780.89" r="7.2" fill="#00ffff" stroke="#000" stroke-width="1"/>
<path d="M1961 1772 H1980.7 V1840.1 H1961" fill="none" stroke="#000" stroke-width="1.8"/>
<text x="1993.5" y="1828" font-size="38" text-anchor="middle" font-weight="bold">*</text>
</svg>
</body></html>
